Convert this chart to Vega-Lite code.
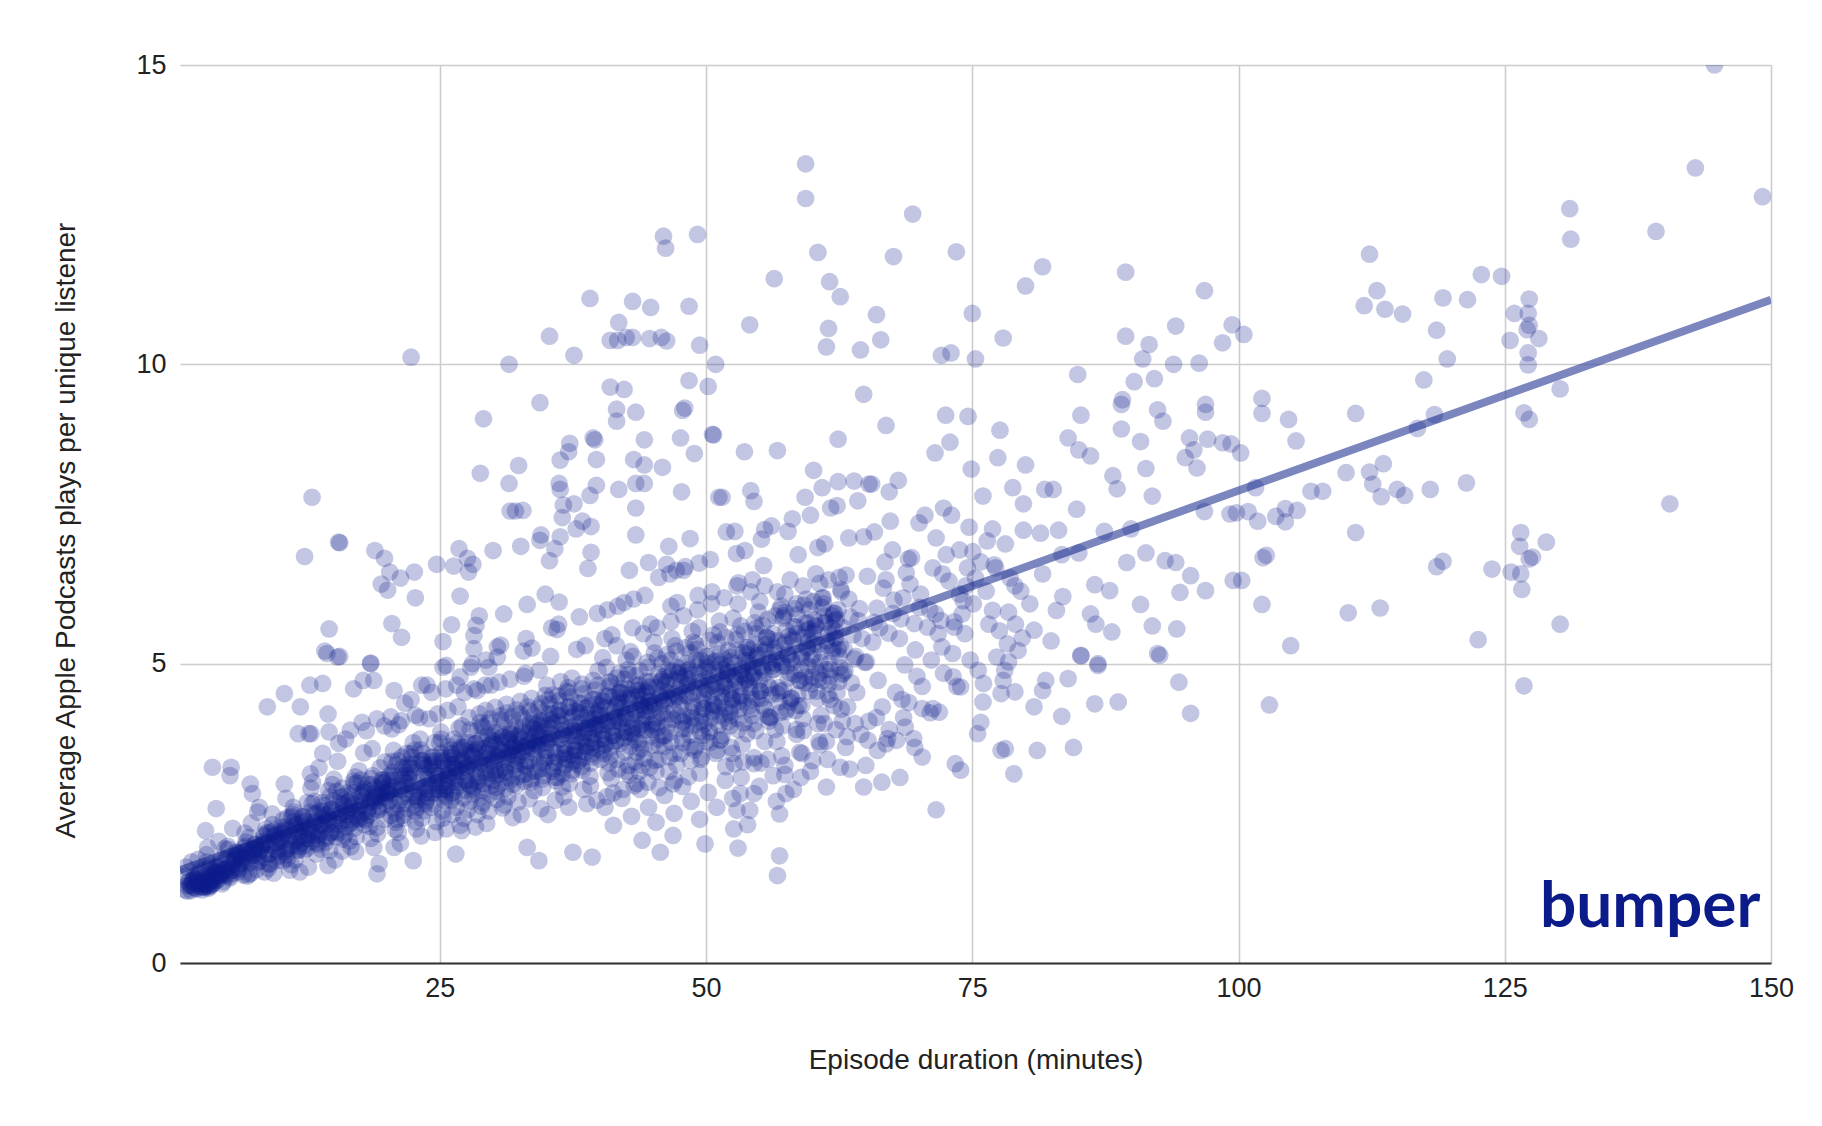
{
  "$schema": "https://vega.github.io/schema/vega-lite/v6.json",
  "width": 1591,
  "height": 898,
  "autosize": "none",
  "padding": {"left": 180, "top": 65, "right": 51, "bottom": 163},
  "background": "white",
  "config": {"font": "Liberation Sans", "view": {"stroke": null}},
  "encoding": {
    "x": {
      "field": "dur", "type": "quantitative",
      "scale": {"domain": [0.6, 150], "nice": false, "zero": false},
      "axis": {"values": [25, 50, 75, 100, 125, 150], "title": "Episode duration (minutes)", "grid": true, "gridColor": "#cccccc", "gridWidth": 1.6, "domain": true, "domainColor": "#333333", "domainWidth": 2, "ticks": false, "labelPadding": 12, "labelFontSize": 27, "labelColor": "#222222", "labelFlush": false, "labelOverlap": false, "titleFontSize": 28, "titleFontWeight": "normal", "titleColor": "#222222", "titleY": 105, "titleBaseline": "alphabetic"}
    },
    "y": {
      "field": "ppl", "type": "quantitative",
      "scale": {"domain": [0, 15], "nice": false},
      "axis": {"values": [0, 5, 10, 15], "title": "Average Apple Podcasts plays per unique listener", "grid": true, "gridColor": "#cccccc", "gridWidth": 1.6, "domain": false, "ticks": false, "labelPadding": 14, "labelFontSize": 27, "labelColor": "#222222", "titleFontSize": 28, "titleFontWeight": "normal", "titleColor": "#222222", "titleAngle": -90, "titleX": -114, "titleY": 465, "titleAlign": "center", "titleBaseline": "middle"}
    }
  },
  "layer": [
    {
      "data": {"values": [{"dur": 0.6, "ppl": 1.55}, {"dur": 150, "ppl": 11.08}]},
      "mark": {"type": "line", "color": "#4352a2", "opacity": 0.7, "strokeWidth": 8, "clip": true}
    },
    {
      "data": {"values": [
        {"dur":1.05,"ppl":1.45},{"dur":1.55,"ppl":1.3},{"dur":1.3,"ppl":1.2},{"dur":1.8,"ppl":1.39},{"dur":1.15,"ppl":1.6},{"dur":1.65,"ppl":1.21},{"dur":1.4,"ppl":1.35},{"dur":1.9,"ppl":1.42},{"dur":1.25,"ppl":1.29},{"dur":1.7,"ppl":1.69},{"dur":1.1,"ppl":1.22},{"dur":1.5,"ppl":1.38},
        {"dur":2.05,"ppl":1.46},{"dur":2.55,"ppl":1.33},{"dur":2.3,"ppl":1.73},{"dur":2.8,"ppl":1.26},{"dur":2.15,"ppl":1.42},{"dur":2.65,"ppl":1.52},{"dur":2.4,"ppl":1.37},{"dur":2.9,"ppl":1.31},{"dur":2.25,"ppl":1.45},{"dur":2.7,"ppl":1.22},{"dur":2.1,"ppl":1.4},{"dur":2.5,"ppl":1.55},{"dur":2.85,"ppl":1.28},{"dur":2.35,"ppl":1.49},{"dur":2.6,"ppl":1.34},{"dur":2.2,"ppl":1.24},
        {"dur":3.05,"ppl":1.37},{"dur":3.55,"ppl":1.55},{"dur":3.3,"ppl":1.25},{"dur":3.8,"ppl":1.49},{"dur":3.15,"ppl":1.69},{"dur":3.65,"ppl":1.33},{"dur":3.4,"ppl":1.61},{"dur":3.9,"ppl":1.41},{"dur":3.25,"ppl":1.27},{"dur":3.7,"ppl":1.53},{"dur":3.1,"ppl":1.81},{"dur":3.5,"ppl":1.29},{"dur":3.85,"ppl":1.47},{"dur":3.35,"ppl":1.57},{"dur":3.6,"ppl":1.39},{"dur":3.2,"ppl":1.93},
        {"dur":4.05,"ppl":1.51},{"dur":4.55,"ppl":1.32},{"dur":4.3,"ppl":1.63},{"dur":4.8,"ppl":1.91},{"dur":4.15,"ppl":1.39},{"dur":4.65,"ppl":1.57},{"dur":4.4,"ppl":1.67},{"dur":4.9,"ppl":1.49},{"dur":4.25,"ppl":2.03},{"dur":4.7,"ppl":1.36},{"dur":4.1,"ppl":1.61},{"dur":4.5,"ppl":1.75},{"dur":4.85,"ppl":1.55},{"dur":4.35,"ppl":1.47},
        {"dur":5.05,"ppl":1.58},{"dur":5.55,"ppl":2.25},{"dur":5.3,"ppl":1.42},{"dur":5.8,"ppl":1.73},{"dur":5.15,"ppl":1.9},{"dur":5.65,"ppl":1.65},{"dur":5.4,"ppl":1.55},{"dur":5.9,"ppl":1.78},{"dur":5.25,"ppl":1.45},{"dur":5.7,"ppl":1.7},{"dur":5.1,"ppl":1.95},{"dur":5.5,"ppl":1.5},{"dur":5.85,"ppl":1.85},
        {"dur":6.05,"ppl":1.85},{"dur":6.55,"ppl":1.47},{"dur":6.3,"ppl":1.77},{"dur":6.8,"ppl":2.02},{"dur":6.15,"ppl":1.57},{"dur":6.65,"ppl":1.92},{"dur":6.4,"ppl":1.67},{"dur":6.9,"ppl":1.45},{"dur":6.25,"ppl":1.82},{"dur":6.7,"ppl":2.17},{"dur":6.1,"ppl":1.52},{"dur":6.5,"ppl":1.75},{"dur":6.85,"ppl":1.87},
        {"dur":7.05,"ppl":1.48},{"dur":7.55,"ppl":1.92},{"dur":7.3,"ppl":2.34},{"dur":7.8,"ppl":1.56},{"dur":7.15,"ppl":1.83},{"dur":7.65,"ppl":1.98},{"dur":7.4,"ppl":1.71},{"dur":7.9,"ppl":2.52},{"dur":7.25,"ppl":1.5},{"dur":7.7,"ppl":1.89},{"dur":7.1,"ppl":2.1},{"dur":7.5,"ppl":1.8},{"dur":7.85,"ppl":1.68},
        {"dur":8.05,"ppl":2.6},{"dur":8.55,"ppl":1.52},{"dur":8.3,"ppl":1.97},{"dur":8.8,"ppl":2.18},{"dur":8.15,"ppl":1.88},{"dur":8.65,"ppl":1.76},{"dur":8.4,"ppl":2.03},{"dur":8.9,"ppl":1.58},{"dur":8.25,"ppl":1.94},{"dur":8.7,"ppl":2.24},{"dur":8.1,"ppl":1.7},{"dur":8.5,"ppl":2.12},{"dur":8.85,"ppl":1.82},
        {"dur":9.05,"ppl":1.65},{"dur":9.55,"ppl":2.01},{"dur":9.3,"ppl":2.31},{"dur":9.8,"ppl":1.77},{"dur":9.15,"ppl":2.19},{"dur":9.65,"ppl":1.89},{"dur":9.4,"ppl":1.5},{"dur":9.9,"ppl":2.07},{"dur":9.25,"ppl":2.49},{"dur":9.7,"ppl":1.71},{"dur":9.1,"ppl":1.98},{"dur":9.5,"ppl":2.13},{"dur":9.85,"ppl":1.86},
        {"dur":10.05,"ppl":2.19},{"dur":10.55,"ppl":2.75},{"dur":10.3,"ppl":1.71},{"dur":10.8,"ppl":2.07},{"dur":10.15,"ppl":2.27},{"dur":10.65,"ppl":1.91},{"dur":10.4,"ppl":2.99},{"dur":10.9,"ppl":1.55},{"dur":10.25,"ppl":2.15},{"dur":10.7,"ppl":2.43},{"dur":10.1,"ppl":2.03},{"dur":10.5,"ppl":1.87},{"dur":10.85,"ppl":2.23},
        {"dur":11.05,"ppl":1.64},{"dur":11.55,"ppl":2.24},{"dur":11.3,"ppl":2.52},{"dur":11.8,"ppl":2.12},{"dur":11.15,"ppl":1.96},{"dur":11.65,"ppl":2.32},{"dur":11.4,"ppl":1.72},{"dur":11.9,"ppl":2.2},{"dur":11.25,"ppl":2.6},{"dur":11.7,"ppl":1.88},{"dur":11.1,"ppl":2.44},{"dur":11.5,"ppl":2.04},{"dur":11.85,"ppl":1.52},
        {"dur":12.05,"ppl":2.28},{"dur":12.55,"ppl":2.68},{"dur":12.3,"ppl":1.96},{"dur":12.8,"ppl":2.52},{"dur":12.15,"ppl":2.12},{"dur":12.65,"ppl":1.6},{"dur":12.4,"ppl":2.36},{"dur":12.9,"ppl":2.92},{"dur":12.25,"ppl":1.88},{"dur":12.7,"ppl":2.24},{"dur":12.1,"ppl":2.44},{"dur":12.5,"ppl":2.08},{"dur":12.85,"ppl":3.16},
        {"dur":13.05,"ppl":3.02},{"dur":13.55,"ppl":1.98},{"dur":13.3,"ppl":2.34},{"dur":13.8,"ppl":2.54},{"dur":13.15,"ppl":2.18},{"dur":13.65,"ppl":3.26},{"dur":13.4,"ppl":1.82},{"dur":13.9,"ppl":2.42},{"dur":13.25,"ppl":2.7},{"dur":13.7,"ppl":2.3},{"dur":13.1,"ppl":2.14},{"dur":13.5,"ppl":2.5},{"dur":13.85,"ppl":1.9},
        {"dur":14.05,"ppl":2.53},{"dur":14.55,"ppl":2.88},{"dur":14.3,"ppl":2.38},{"dur":14.8,"ppl":2.18},{"dur":14.15,"ppl":2.63},{"dur":14.65,"ppl":1.88},{"dur":14.4,"ppl":2.48},{"dur":14.9,"ppl":2.98},{"dur":14.25,"ppl":2.08},{"dur":14.7,"ppl":2.78},{"dur":14.1,"ppl":2.28},{"dur":14.5,"ppl":1.63},{"dur":14.85,"ppl":2.58},
        {"dur":15.05,"ppl":3.07},{"dur":15.55,"ppl":2.17},{"dur":15.3,"ppl":2.87},{"dur":15.8,"ppl":2.37},{"dur":15.15,"ppl":1.72},{"dur":15.65,"ppl":2.67},{"dur":15.4,"ppl":3.37},{"dur":15.9,"ppl":2.07},{"dur":15.25,"ppl":2.52},{"dur":15.7,"ppl":2.77},{"dur":15.1,"ppl":2.32},{"dur":15.5,"ppl":3.67},{"dur":15.85,"ppl":1.87},
        {"dur":16.05,"ppl":2.14},{"dur":16.55,"ppl":2.59},{"dur":16.3,"ppl":2.84},{"dur":16.8,"ppl":2.39},{"dur":16.15,"ppl":3.74},{"dur":16.65,"ppl":1.94},{"dur":16.4,"ppl":2.69},{"dur":16.9,"ppl":3.04},{"dur":16.25,"ppl":2.54},{"dur":16.7,"ppl":2.34},{"dur":16.1,"ppl":2.79},{"dur":16.5,"ppl":2.04},{"dur":16.85,"ppl":2.64},
        {"dur":17.05,"ppl":3.11},{"dur":17.55,"ppl":2.61},{"dur":17.3,"ppl":2.41},{"dur":17.8,"ppl":2.86},{"dur":17.15,"ppl":2.11},{"dur":17.65,"ppl":2.71},{"dur":17.4,"ppl":3.21},{"dur":17.9,"ppl":2.31},{"dur":17.25,"ppl":3.01},{"dur":17.7,"ppl":2.51},{"dur":17.1,"ppl":1.86},{"dur":17.5,"ppl":2.81},{"dur":17.85,"ppl":3.51},
        {"dur":18.05,"ppl":2.38},{"dur":18.55,"ppl":3.08},{"dur":18.3,"ppl":2.58},{"dur":18.8,"ppl":1.93},{"dur":18.15,"ppl":2.88},{"dur":18.65,"ppl":3.58},{"dur":18.4,"ppl":2.28},{"dur":18.9,"ppl":2.73},{"dur":18.25,"ppl":2.98},{"dur":18.7,"ppl":2.53},{"dur":18.1,"ppl":3.88},{"dur":18.5,"ppl":2.08},{"dur":18.85,"ppl":2.83},
        {"dur":19.05,"ppl":2.81},{"dur":19.55,"ppl":3.06},{"dur":19.3,"ppl":2.61},{"dur":19.8,"ppl":3.96},{"dur":19.15,"ppl":2.16},{"dur":19.65,"ppl":2.91},{"dur":19.4,"ppl":3.26},{"dur":19.9,"ppl":2.76},{"dur":19.25,"ppl":2.56},{"dur":19.7,"ppl":3.01},{"dur":19.1,"ppl":2.26},{"dur":19.5,"ppl":2.86},{"dur":19.85,"ppl":3.36},
        {"dur":20.05,"ppl":2.83},{"dur":20.55,"ppl":2.59},{"dur":20.3,"ppl":3.13},{"dur":20.8,"ppl":2.23},{"dur":20.15,"ppl":2.95},{"dur":20.65,"ppl":3.55},{"dur":20.4,"ppl":2.47},{"dur":20.9,"ppl":3.31},{"dur":20.25,"ppl":2.71},{"dur":20.7,"ppl":1.93},{"dur":20.1,"ppl":3.07},{"dur":20.5,"ppl":3.91},{"dur":20.85,"ppl":2.35},{"dur":20.35,"ppl":2.89},{"dur":20.6,"ppl":3.19},
        {"dur":21.05,"ppl":3.38},{"dur":21.55,"ppl":2.78},{"dur":21.3,"ppl":2.0},{"dur":21.8,"ppl":3.14},{"dur":21.15,"ppl":3.98},{"dur":21.65,"ppl":2.42},{"dur":21.4,"ppl":2.96},{"dur":21.9,"ppl":3.26},{"dur":21.25,"ppl":2.72},{"dur":21.7,"ppl":4.34},{"dur":21.1,"ppl":2.18},{"dur":21.5,"ppl":3.08},{"dur":21.85,"ppl":3.5},{"dur":21.35,"ppl":2.9},{"dur":21.6,"ppl":2.66},
        {"dur":22.05,"ppl":3.32},{"dur":22.55,"ppl":2.78},{"dur":22.3,"ppl":4.4},{"dur":22.8,"ppl":2.24},{"dur":22.15,"ppl":3.14},{"dur":22.65,"ppl":3.56},{"dur":22.4,"ppl":2.96},{"dur":22.9,"ppl":2.72},{"dur":22.25,"ppl":3.26},{"dur":22.7,"ppl":2.36},{"dur":22.1,"ppl":3.08},{"dur":22.5,"ppl":3.68},{"dur":22.85,"ppl":2.6},{"dur":22.35,"ppl":3.44},{"dur":22.6,"ppl":2.84},
        {"dur":23.05,"ppl":2.78},{"dur":23.55,"ppl":3.32},{"dur":23.3,"ppl":2.42},{"dur":23.8,"ppl":3.14},{"dur":23.15,"ppl":3.74},{"dur":23.65,"ppl":2.66},{"dur":23.4,"ppl":3.5},{"dur":23.9,"ppl":2.9},{"dur":23.25,"ppl":2.12},{"dur":23.7,"ppl":3.26},{"dur":23.1,"ppl":4.1},{"dur":23.5,"ppl":2.54},{"dur":23.85,"ppl":3.08},{"dur":23.35,"ppl":3.38},{"dur":23.6,"ppl":2.84},
        {"dur":24.05,"ppl":2.96},{"dur":24.55,"ppl":2.18},{"dur":24.3,"ppl":3.32},{"dur":24.8,"ppl":4.16},{"dur":24.15,"ppl":2.6},{"dur":24.65,"ppl":3.14},{"dur":24.4,"ppl":3.44},{"dur":24.9,"ppl":2.9},{"dur":24.25,"ppl":4.52},{"dur":24.7,"ppl":2.36},{"dur":24.1,"ppl":3.26},{"dur":24.5,"ppl":3.68},{"dur":24.85,"ppl":3.08},{"dur":24.35,"ppl":2.84},{"dur":24.6,"ppl":3.38},
        {"dur":25.05,"ppl":2.96},{"dur":25.55,"ppl":4.58},{"dur":25.3,"ppl":2.42},{"dur":25.8,"ppl":3.32},{"dur":25.15,"ppl":3.74},{"dur":25.65,"ppl":3.14},{"dur":25.4,"ppl":2.9},{"dur":25.9,"ppl":3.44},{"dur":25.25,"ppl":2.54},{"dur":25.7,"ppl":3.26},{"dur":25.1,"ppl":3.86},{"dur":25.5,"ppl":2.78},{"dur":25.85,"ppl":3.62},{"dur":25.35,"ppl":3.02},{"dur":25.6,"ppl":2.24},{"dur":25.2,"ppl":3.38},{"dur":25.75,"ppl":4.22},
        {"dur":26.05,"ppl":3.5},{"dur":26.55,"ppl":2.6},{"dur":26.3,"ppl":3.32},{"dur":26.8,"ppl":3.92},{"dur":26.15,"ppl":2.84},{"dur":26.65,"ppl":3.68},{"dur":26.4,"ppl":3.08},{"dur":26.9,"ppl":2.3},{"dur":26.25,"ppl":3.44},{"dur":26.7,"ppl":4.28},{"dur":26.1,"ppl":2.72},{"dur":26.5,"ppl":3.26},{"dur":26.85,"ppl":3.56},{"dur":26.35,"ppl":3.02},{"dur":26.6,"ppl":4.64},{"dur":26.2,"ppl":2.48},{"dur":26.75,"ppl":3.38},
        {"dur":27.05,"ppl":2.21},{"dur":27.55,"ppl":3.54},{"dur":27.3,"ppl":4.52},{"dur":27.8,"ppl":2.7},{"dur":27.15,"ppl":3.33},{"dur":27.65,"ppl":3.68},{"dur":27.4,"ppl":3.05},{"dur":27.9,"ppl":4.94},{"dur":27.25,"ppl":2.42},{"dur":27.7,"ppl":3.47},{"dur":27.1,"ppl":3.96},{"dur":27.5,"ppl":3.26},{"dur":27.85,"ppl":2.98},{"dur":27.35,"ppl":3.61},{"dur":27.6,"ppl":2.56},{"dur":27.2,"ppl":3.4},{"dur":27.75,"ppl":4.1},
        {"dur":28.05,"ppl":5.0},{"dur":28.55,"ppl":2.48},{"dur":28.3,"ppl":3.53},{"dur":28.8,"ppl":4.02},{"dur":28.15,"ppl":3.32},{"dur":28.65,"ppl":3.04},{"dur":28.4,"ppl":3.67},{"dur":28.9,"ppl":2.62},{"dur":28.25,"ppl":3.46},{"dur":28.7,"ppl":4.16},{"dur":28.1,"ppl":2.9},{"dur":28.5,"ppl":3.88},{"dur":28.85,"ppl":3.18},{"dur":28.35,"ppl":2.27},{"dur":28.6,"ppl":3.6},{"dur":28.2,"ppl":4.58},{"dur":28.75,"ppl":2.76},
        {"dur":29.05,"ppl":2.68},{"dur":29.55,"ppl":3.52},{"dur":29.3,"ppl":4.22},{"dur":29.8,"ppl":2.96},{"dur":29.15,"ppl":3.94},{"dur":29.65,"ppl":3.24},{"dur":29.4,"ppl":2.33},{"dur":29.9,"ppl":3.66},{"dur":29.25,"ppl":4.64},{"dur":29.7,"ppl":2.82},{"dur":29.1,"ppl":3.45},{"dur":29.5,"ppl":3.8},{"dur":29.85,"ppl":3.17},{"dur":29.35,"ppl":5.06},{"dur":29.6,"ppl":2.54},{"dur":29.2,"ppl":3.59},{"dur":29.75,"ppl":4.08},
        {"dur":30.05,"ppl":3.71},{"dur":30.55,"ppl":4.69},{"dur":30.3,"ppl":2.87},{"dur":30.8,"ppl":3.5},{"dur":30.15,"ppl":3.85},{"dur":30.65,"ppl":3.22},{"dur":30.4,"ppl":5.11},{"dur":30.9,"ppl":2.59},{"dur":30.25,"ppl":3.64},{"dur":30.7,"ppl":4.13},{"dur":30.1,"ppl":3.43},{"dur":30.5,"ppl":3.15},{"dur":30.85,"ppl":3.78},{"dur":30.35,"ppl":2.73},{"dur":30.6,"ppl":3.57},{"dur":30.2,"ppl":4.27},{"dur":30.75,"ppl":3.01},
        {"dur":31.05,"ppl":2.64},{"dur":31.55,"ppl":3.69},{"dur":31.3,"ppl":4.18},{"dur":31.8,"ppl":3.48},{"dur":31.15,"ppl":3.2},{"dur":31.65,"ppl":3.83},{"dur":31.4,"ppl":2.78},{"dur":31.9,"ppl":3.62},{"dur":31.25,"ppl":4.32},{"dur":31.7,"ppl":3.06},{"dur":31.1,"ppl":4.04},{"dur":31.5,"ppl":3.34},{"dur":31.85,"ppl":2.43},{"dur":31.35,"ppl":3.76},{"dur":31.6,"ppl":4.74},{"dur":31.2,"ppl":2.92},{"dur":31.75,"ppl":3.55},
        {"dur":32.05,"ppl":3.67},{"dur":32.55,"ppl":4.37},{"dur":32.3,"ppl":3.11},{"dur":32.8,"ppl":4.09},{"dur":32.15,"ppl":3.39},{"dur":32.65,"ppl":2.48},{"dur":32.4,"ppl":3.81},{"dur":32.9,"ppl":4.79},{"dur":32.25,"ppl":2.97},{"dur":32.7,"ppl":3.6},{"dur":32.1,"ppl":3.95},{"dur":32.5,"ppl":3.32},{"dur":32.85,"ppl":5.21},{"dur":32.35,"ppl":2.69},{"dur":32.6,"ppl":3.74},{"dur":32.2,"ppl":4.23},{"dur":32.75,"ppl":3.53},
        {"dur":33.05,"ppl":4.84},{"dur":33.55,"ppl":3.02},{"dur":33.3,"ppl":3.65},{"dur":33.8,"ppl":4.0},{"dur":33.15,"ppl":3.37},{"dur":33.65,"ppl":5.26},{"dur":33.4,"ppl":2.74},{"dur":33.9,"ppl":3.79},{"dur":33.25,"ppl":4.28},{"dur":33.7,"ppl":3.58},{"dur":33.1,"ppl":3.3},{"dur":33.5,"ppl":3.93},{"dur":33.85,"ppl":2.88},{"dur":33.35,"ppl":3.72},{"dur":33.6,"ppl":4.42},{"dur":33.2,"ppl":3.16},{"dur":33.75,"ppl":4.14},
        {"dur":34.05,"ppl":3.84},{"dur":34.55,"ppl":4.33},{"dur":34.3,"ppl":3.63},{"dur":34.8,"ppl":3.35},{"dur":34.15,"ppl":3.98},{"dur":34.65,"ppl":2.93},{"dur":34.4,"ppl":3.77},{"dur":34.9,"ppl":4.47},{"dur":34.25,"ppl":3.21},{"dur":34.7,"ppl":4.19},{"dur":34.1,"ppl":3.49},{"dur":34.5,"ppl":2.58},{"dur":34.85,"ppl":3.91},{"dur":34.35,"ppl":4.89},{"dur":34.6,"ppl":3.07},{"dur":34.2,"ppl":3.7},{"dur":34.75,"ppl":4.05},
        {"dur":35.05,"ppl":4.64},{"dur":35.55,"ppl":3.2},{"dur":35.3,"ppl":4.32},{"dur":35.8,"ppl":3.52},{"dur":35.15,"ppl":2.48},{"dur":35.65,"ppl":4.0},{"dur":35.4,"ppl":5.12},{"dur":35.9,"ppl":3.04},{"dur":35.25,"ppl":3.76},{"dur":35.7,"ppl":4.16},{"dur":35.1,"ppl":3.44},{"dur":35.5,"ppl":5.6},{"dur":35.85,"ppl":2.72},{"dur":35.35,"ppl":3.92},{"dur":35.6,"ppl":4.48},{"dur":35.2,"ppl":3.68},{"dur":35.75,"ppl":3.36},
        {"dur":36.05,"ppl":3.1},{"dur":36.55,"ppl":3.82},{"dur":36.3,"ppl":4.22},{"dur":36.8,"ppl":3.5},{"dur":36.15,"ppl":5.66},{"dur":36.65,"ppl":2.78},{"dur":36.4,"ppl":3.98},{"dur":36.9,"ppl":4.54},{"dur":36.25,"ppl":3.74},{"dur":36.7,"ppl":3.42},{"dur":36.1,"ppl":4.14},{"dur":36.5,"ppl":2.94},{"dur":36.85,"ppl":3.9},{"dur":36.35,"ppl":4.7},{"dur":36.6,"ppl":3.26},{"dur":36.2,"ppl":4.38},{"dur":36.75,"ppl":3.58},
        {"dur":37.05,"ppl":4.6},{"dur":37.55,"ppl":3.8},{"dur":37.3,"ppl":3.48},{"dur":37.8,"ppl":4.2},{"dur":37.15,"ppl":3.0},{"dur":37.65,"ppl":3.96},{"dur":37.4,"ppl":4.76},{"dur":37.9,"ppl":3.32},{"dur":37.25,"ppl":4.44},{"dur":37.7,"ppl":3.64},{"dur":37.1,"ppl":2.6},{"dur":37.5,"ppl":4.12},{"dur":37.85,"ppl":5.24},{"dur":37.35,"ppl":3.16},{"dur":37.6,"ppl":3.88},{"dur":37.2,"ppl":4.28},{"dur":37.75,"ppl":3.56},
        {"dur":38.05,"ppl":3.38},{"dur":38.55,"ppl":4.5},{"dur":38.3,"ppl":3.7},{"dur":38.8,"ppl":2.66},{"dur":38.15,"ppl":4.18},{"dur":38.65,"ppl":5.3},{"dur":38.4,"ppl":3.22},{"dur":38.9,"ppl":3.94},{"dur":38.25,"ppl":4.34},{"dur":38.7,"ppl":3.62},{"dur":38.1,"ppl":5.78},{"dur":38.5,"ppl":2.9},{"dur":38.85,"ppl":4.1},{"dur":38.35,"ppl":4.66},{"dur":38.6,"ppl":3.86},{"dur":38.2,"ppl":3.54},{"dur":38.75,"ppl":4.26},
        {"dur":39.05,"ppl":4.0},{"dur":39.55,"ppl":4.4},{"dur":39.3,"ppl":3.68},{"dur":39.8,"ppl":5.84},{"dur":39.15,"ppl":2.96},{"dur":39.65,"ppl":4.16},{"dur":39.4,"ppl":4.72},{"dur":39.9,"ppl":3.92},{"dur":39.25,"ppl":3.6},{"dur":39.7,"ppl":4.32},{"dur":39.1,"ppl":3.12},{"dur":39.5,"ppl":4.08},{"dur":39.85,"ppl":4.88},{"dur":39.35,"ppl":3.44},{"dur":39.6,"ppl":4.56},{"dur":39.2,"ppl":3.76},{"dur":39.75,"ppl":2.72},
        {"dur":40.05,"ppl":3.98},{"dur":40.55,"ppl":3.66},{"dur":40.3,"ppl":4.38},{"dur":40.8,"ppl":3.18},{"dur":40.15,"ppl":4.14},{"dur":40.65,"ppl":4.94},{"dur":40.4,"ppl":3.5},{"dur":40.9,"ppl":4.62},{"dur":40.25,"ppl":3.82},{"dur":40.7,"ppl":2.78},{"dur":40.1,"ppl":4.3},{"dur":40.5,"ppl":5.42},{"dur":40.85,"ppl":3.34},{"dur":40.35,"ppl":4.06},{"dur":40.6,"ppl":4.46},{"dur":40.2,"ppl":3.74},{"dur":40.75,"ppl":5.9},
        {"dur":41.05,"ppl":4.68},{"dur":41.55,"ppl":3.88},{"dur":41.3,"ppl":2.84},{"dur":41.8,"ppl":4.36},{"dur":41.15,"ppl":5.48},{"dur":41.65,"ppl":3.4},{"dur":41.4,"ppl":4.12},{"dur":41.9,"ppl":4.52},{"dur":41.25,"ppl":3.8},{"dur":41.7,"ppl":5.96},{"dur":41.1,"ppl":3.08},{"dur":41.5,"ppl":4.28},{"dur":41.85,"ppl":4.84},{"dur":41.35,"ppl":4.04},{"dur":41.6,"ppl":3.72},{"dur":41.2,"ppl":4.44},{"dur":41.75,"ppl":3.24},
        {"dur":42.05,"ppl":4.58},{"dur":42.55,"ppl":3.86},{"dur":42.3,"ppl":6.02},{"dur":42.8,"ppl":3.14},{"dur":42.15,"ppl":4.34},{"dur":42.65,"ppl":4.9},{"dur":42.4,"ppl":4.1},{"dur":42.9,"ppl":3.78},{"dur":42.25,"ppl":4.5},{"dur":42.7,"ppl":3.3},{"dur":42.1,"ppl":4.26},{"dur":42.5,"ppl":5.06},{"dur":42.85,"ppl":3.62},{"dur":42.35,"ppl":4.74},{"dur":42.6,"ppl":3.94},{"dur":42.2,"ppl":2.9},{"dur":42.75,"ppl":4.42},
        {"dur":43.05,"ppl":3.84},{"dur":43.55,"ppl":4.56},{"dur":43.3,"ppl":3.36},{"dur":43.8,"ppl":4.32},{"dur":43.15,"ppl":5.12},{"dur":43.65,"ppl":3.68},{"dur":43.4,"ppl":4.8},{"dur":43.9,"ppl":4.0},{"dur":43.25,"ppl":2.96},{"dur":43.7,"ppl":4.48},{"dur":43.1,"ppl":5.6},{"dur":43.5,"ppl":3.52},{"dur":43.85,"ppl":4.24},{"dur":43.35,"ppl":4.64},{"dur":43.6,"ppl":3.92},{"dur":43.2,"ppl":6.08},{"dur":43.75,"ppl":3.2},
        {"dur":44.05,"ppl":4.06},{"dur":44.55,"ppl":3.02},{"dur":44.3,"ppl":4.54},{"dur":44.8,"ppl":5.66},{"dur":44.15,"ppl":3.58},{"dur":44.65,"ppl":4.3},{"dur":44.4,"ppl":4.7},{"dur":44.9,"ppl":3.98},{"dur":44.25,"ppl":6.14},{"dur":44.7,"ppl":3.26},{"dur":44.1,"ppl":4.46},{"dur":44.5,"ppl":5.02},{"dur":44.85,"ppl":4.22},{"dur":44.35,"ppl":3.9},{"dur":44.6,"ppl":4.62},{"dur":44.2,"ppl":3.42},{"dur":44.75,"ppl":4.38},
        {"dur":45.05,"ppl":4.01},{"dur":45.55,"ppl":6.44},{"dur":45.3,"ppl":3.2},{"dur":45.8,"ppl":4.55},{"dur":45.15,"ppl":5.18},{"dur":45.65,"ppl":4.28},{"dur":45.4,"ppl":3.92},{"dur":45.9,"ppl":4.73},{"dur":45.25,"ppl":3.38},{"dur":45.7,"ppl":4.46},{"dur":45.1,"ppl":5.36},{"dur":45.5,"ppl":3.74},{"dur":45.85,"ppl":5.0},{"dur":45.35,"ppl":4.1},{"dur":45.6,"ppl":2.93},
        {"dur":46.05,"ppl":4.79},{"dur":46.55,"ppl":3.44},{"dur":46.3,"ppl":4.52},{"dur":46.8,"ppl":5.42},{"dur":46.15,"ppl":3.8},{"dur":46.65,"ppl":5.06},{"dur":46.4,"ppl":4.16},{"dur":46.9,"ppl":2.99},{"dur":46.25,"ppl":4.7},{"dur":46.7,"ppl":5.96},{"dur":46.1,"ppl":3.62},{"dur":46.5,"ppl":4.43},{"dur":46.85,"ppl":4.88},{"dur":46.35,"ppl":4.07},{"dur":46.6,"ppl":6.5},
        {"dur":47.05,"ppl":3.05},{"dur":47.55,"ppl":4.76},{"dur":47.3,"ppl":6.02},{"dur":47.8,"ppl":3.68},{"dur":47.15,"ppl":4.49},{"dur":47.65,"ppl":4.94},{"dur":47.4,"ppl":4.13},{"dur":47.9,"ppl":6.56},{"dur":47.25,"ppl":3.32},{"dur":47.7,"ppl":4.67},{"dur":47.1,"ppl":5.3},{"dur":47.5,"ppl":4.4},{"dur":47.85,"ppl":4.04},{"dur":47.35,"ppl":4.85},{"dur":47.6,"ppl":3.5},
        {"dur":48.05,"ppl":6.62},{"dur":48.55,"ppl":3.38},{"dur":48.3,"ppl":4.73},{"dur":48.8,"ppl":5.36},{"dur":48.15,"ppl":4.46},{"dur":48.65,"ppl":4.1},{"dur":48.4,"ppl":4.91},{"dur":48.9,"ppl":3.56},{"dur":48.25,"ppl":4.64},{"dur":48.7,"ppl":5.54},{"dur":48.1,"ppl":3.92},{"dur":48.5,"ppl":5.18},{"dur":48.85,"ppl":4.28},{"dur":48.35,"ppl":3.11},{"dur":48.6,"ppl":4.82},
        {"dur":49.05,"ppl":3.62},{"dur":49.55,"ppl":4.7},{"dur":49.3,"ppl":5.6},{"dur":49.8,"ppl":3.98},{"dur":49.15,"ppl":5.24},{"dur":49.65,"ppl":4.34},{"dur":49.4,"ppl":3.17},{"dur":49.9,"ppl":4.88},{"dur":49.25,"ppl":6.14},{"dur":49.7,"ppl":3.8},{"dur":49.1,"ppl":4.61},{"dur":49.5,"ppl":5.06},{"dur":49.85,"ppl":4.25},{"dur":49.35,"ppl":6.68},{"dur":49.6,"ppl":3.44},
        {"dur":50.05,"ppl":4.94},{"dur":50.55,"ppl":6.2},{"dur":50.3,"ppl":3.86},{"dur":50.8,"ppl":4.67},{"dur":50.15,"ppl":5.12},{"dur":50.65,"ppl":4.31},{"dur":50.4,"ppl":6.74},{"dur":50.9,"ppl":3.5},{"dur":50.25,"ppl":4.85},{"dur":50.7,"ppl":5.48},{"dur":50.1,"ppl":4.58},{"dur":50.5,"ppl":4.22},{"dur":50.85,"ppl":5.03},{"dur":50.35,"ppl":3.68},
        {"dur":51.05,"ppl":3.55},{"dur":51.55,"ppl":4.9},{"dur":51.3,"ppl":5.53},{"dur":51.8,"ppl":4.63},{"dur":51.15,"ppl":4.27},{"dur":51.65,"ppl":5.08},{"dur":51.4,"ppl":3.73},{"dur":51.9,"ppl":4.81},{"dur":51.25,"ppl":5.71},{"dur":51.7,"ppl":4.09},{"dur":51.1,"ppl":5.35},{"dur":51.5,"ppl":4.45},{"dur":51.85,"ppl":3.28},{"dur":51.35,"ppl":4.99},
        {"dur":52.05,"ppl":4.86},{"dur":52.55,"ppl":5.76},{"dur":52.3,"ppl":4.14},{"dur":52.8,"ppl":5.4},{"dur":52.15,"ppl":4.5},{"dur":52.65,"ppl":3.33},{"dur":52.4,"ppl":5.04},{"dur":52.9,"ppl":6.3},{"dur":52.25,"ppl":3.96},{"dur":52.7,"ppl":4.77},{"dur":52.1,"ppl":5.22},{"dur":52.5,"ppl":4.41},{"dur":52.85,"ppl":6.84},{"dur":52.35,"ppl":3.6},
        {"dur":53.05,"ppl":6.35},{"dur":53.55,"ppl":4.01},{"dur":53.3,"ppl":4.82},{"dur":53.8,"ppl":5.27},{"dur":53.15,"ppl":4.46},{"dur":53.65,"ppl":6.89},{"dur":53.4,"ppl":3.65},{"dur":53.9,"ppl":5.0},{"dur":53.25,"ppl":5.63},{"dur":53.7,"ppl":4.73},{"dur":53.1,"ppl":4.37},{"dur":53.5,"ppl":5.18},{"dur":53.85,"ppl":3.83},{"dur":53.35,"ppl":4.91},
        {"dur":54.05,"ppl":5.05},{"dur":54.55,"ppl":5.68},{"dur":54.3,"ppl":4.78},{"dur":54.8,"ppl":4.42},{"dur":54.15,"ppl":5.23},{"dur":54.65,"ppl":3.88},{"dur":54.4,"ppl":4.96},{"dur":54.9,"ppl":5.86},{"dur":54.25,"ppl":4.24},{"dur":54.7,"ppl":5.5},{"dur":54.1,"ppl":4.6},{"dur":54.5,"ppl":3.43},{"dur":54.85,"ppl":5.14},{"dur":54.35,"ppl":6.4},
        {"dur":55.05,"ppl":6.04},{"dur":55.55,"ppl":4.24},{"dur":55.3,"ppl":5.64},{"dur":55.8,"ppl":4.64},{"dur":55.15,"ppl":3.34},{"dur":55.65,"ppl":5.24},{"dur":55.4,"ppl":6.64},{"dur":55.9,"ppl":4.04},{"dur":55.25,"ppl":4.94},{"dur":55.7,"ppl":5.44},{"dur":55.1,"ppl":4.54},{"dur":55.5,"ppl":7.24},
        {"dur":56.05,"ppl":4.1},{"dur":56.55,"ppl":5.0},{"dur":56.3,"ppl":5.5},{"dur":56.8,"ppl":4.6},{"dur":56.15,"ppl":7.3},{"dur":56.65,"ppl":3.7},{"dur":56.4,"ppl":5.2},{"dur":56.9,"ppl":5.9},{"dur":56.25,"ppl":4.9},{"dur":56.7,"ppl":4.5},{"dur":56.1,"ppl":5.4},{"dur":56.5,"ppl":3.9},
        {"dur":57.05,"ppl":5.96},{"dur":57.55,"ppl":4.96},{"dur":57.3,"ppl":4.56},{"dur":57.8,"ppl":5.46},{"dur":57.15,"ppl":3.96},{"dur":57.65,"ppl":5.16},{"dur":57.4,"ppl":6.16},{"dur":57.9,"ppl":4.36},{"dur":57.25,"ppl":5.76},{"dur":57.7,"ppl":4.76},{"dur":57.1,"ppl":3.46},{"dur":57.5,"ppl":5.36},
        {"dur":58.05,"ppl":4.42},{"dur":58.55,"ppl":5.82},{"dur":58.3,"ppl":4.82},{"dur":58.8,"ppl":3.52},{"dur":58.15,"ppl":5.42},{"dur":58.65,"ppl":6.82},{"dur":58.4,"ppl":4.22},{"dur":58.9,"ppl":5.12},{"dur":58.25,"ppl":5.62},{"dur":58.7,"ppl":4.72},{"dur":58.1,"ppl":7.42},{"dur":58.5,"ppl":3.82},
        {"dur":59.05,"ppl":5.18},{"dur":59.55,"ppl":5.68},{"dur":59.3,"ppl":4.78},{"dur":59.8,"ppl":7.48},{"dur":59.15,"ppl":3.88},{"dur":59.65,"ppl":5.38},{"dur":59.4,"ppl":6.08},{"dur":59.9,"ppl":5.08},{"dur":59.25,"ppl":4.68},{"dur":59.7,"ppl":5.58},{"dur":59.1,"ppl":4.08},{"dur":59.5,"ppl":5.28},
        {"dur":60.05,"ppl":5.14},{"dur":60.55,"ppl":4.74},{"dur":60.3,"ppl":5.64},{"dur":60.8,"ppl":4.14},{"dur":60.15,"ppl":5.34},{"dur":60.65,"ppl":6.34},{"dur":60.4,"ppl":4.54},{"dur":60.9,"ppl":5.94},{"dur":60.25,"ppl":4.94},{"dur":60.7,"ppl":3.64},{"dur":60.1,"ppl":5.54},{"dur":60.5,"ppl":6.94},
        {"dur":61.05,"ppl":6.0},{"dur":61.55,"ppl":5.0},{"dur":61.3,"ppl":3.7},{"dur":61.8,"ppl":5.6},{"dur":61.15,"ppl":7.0},{"dur":61.65,"ppl":4.4},{"dur":61.4,"ppl":5.3},{"dur":61.9,"ppl":5.8},{"dur":61.25,"ppl":4.9},{"dur":61.7,"ppl":7.6},{"dur":61.1,"ppl":4.0},{"dur":61.5,"ppl":5.5},
        {"dur":62.05,"ppl":5.84},{"dur":62.55,"ppl":4.94},{"dur":62.3,"ppl":7.64},{"dur":62.8,"ppl":4.04},{"dur":62.15,"ppl":5.54},{"dur":62.65,"ppl":6.24},{"dur":62.4,"ppl":5.24},{"dur":62.9,"ppl":4.84},{"dur":62.25,"ppl":5.74},{"dur":62.7,"ppl":4.24},{"dur":62.1,"ppl":5.44},{"dur":62.5,"ppl":6.44},
        {"dur":63.05,"ppl":4.88},{"dur":63.55,"ppl":5.78},{"dur":63.3,"ppl":4.28},{"dur":63.8,"ppl":5.48},{"dur":63.15,"ppl":6.48},{"dur":63.65,"ppl":4.68},{"dur":63.4,"ppl":6.08},{"dur":63.9,"ppl":5.08},{"dur":63.25,"ppl":3.78},
        {"dur":64.05,"ppl":5.12},{"dur":64.55,"ppl":3.82},{"dur":64.3,"ppl":5.72},{"dur":64.8,"ppl":7.12},{"dur":64.15,"ppl":4.52},{"dur":64.65,"ppl":5.42},{"dur":64.4,"ppl":5.92},{"dur":64.9,"ppl":5.02},{"dur":64.25,"ppl":7.72},
        {"dur":65.05,"ppl":5.03},{"dur":65.55,"ppl":8.0},{"dur":65.3,"ppl":4.04},{"dur":65.8,"ppl":5.69},{"dur":65.15,"ppl":6.46},{"dur":65.65,"ppl":5.36},
        {"dur":66.05,"ppl":5.93},{"dur":66.55,"ppl":4.28},{"dur":66.3,"ppl":5.6},{"dur":66.8,"ppl":6.7},{"dur":66.15,"ppl":4.72},{"dur":66.65,"ppl":6.26},
        {"dur":67.05,"ppl":3.75},{"dur":67.55,"ppl":5.84},{"dur":67.3,"ppl":7.38},{"dur":67.8,"ppl":4.52},{"dur":67.15,"ppl":5.51},{"dur":67.65,"ppl":6.06},
        {"dur":68.05,"ppl":8.06},{"dur":68.55,"ppl":4.1},{"dur":68.3,"ppl":5.75},{"dur":68.8,"ppl":6.52},{"dur":68.15,"ppl":5.42},{"dur":68.65,"ppl":4.98},
        {"dur":69.05,"ppl":4.35},{"dur":69.55,"ppl":5.67},{"dur":69.3,"ppl":6.77},{"dur":69.8,"ppl":4.79},{"dur":69.15,"ppl":6.33},{"dur":69.65,"ppl":5.23},
        {"dur":70.05,"ppl":5.94},{"dur":70.55,"ppl":7.48},{"dur":70.3,"ppl":4.62},{"dur":70.8,"ppl":5.61},{"dur":70.15,"ppl":6.16},
        {"dur":71.05,"ppl":4.18},{"dur":71.55,"ppl":5.83},{"dur":71.3,"ppl":6.6},{"dur":71.8,"ppl":5.5},{"dur":71.15,"ppl":5.06},
        {"dur":72.05,"ppl":5.72},{"dur":72.55,"ppl":6.82},{"dur":72.3,"ppl":4.84},{"dur":72.8,"ppl":6.38},{"dur":72.15,"ppl":5.28},
        {"dur":73.05,"ppl":7.48},{"dur":73.55,"ppl":4.62},{"dur":73.3,"ppl":5.61},{"dur":73.8,"ppl":6.16},{"dur":73.15,"ppl":5.17},
        {"dur":74.05,"ppl":5.83},{"dur":74.55,"ppl":6.6},{"dur":74.3,"ppl":5.5},{"dur":74.8,"ppl":5.06},{"dur":74.15,"ppl":6.05},
        {"dur":75.05,"ppl":6.87},{"dur":75.55,"ppl":4.89},{"dur":75.3,"ppl":6.43},{"dur":76.05,"ppl":4.67},{"dur":76.55,"ppl":5.66},{"dur":76.3,"ppl":6.21},{"dur":77.05,"ppl":6.65},{"dur":77.55,"ppl":5.55},{"dur":77.3,"ppl":5.11},{"dur":78.05,"ppl":4.89},{"dur":78.55,"ppl":6.43},{"dur":78.3,"ppl":5.33},{"dur":79.05,"ppl":5.66},{"dur":79.55,"ppl":6.21},{"dur":79.3,"ppl":5.22},
        {"dur":1.6,"ppl":1.3},{"dur":1.9,"ppl":1.27},{"dur":2.2,"ppl":1.32},{"dur":2.5,"ppl":1.28},{"dur":2.8,"ppl":1.33},{"dur":3.1,"ppl":1.3},{"dur":3.4,"ppl":1.35},{"dur":3.7,"ppl":1.32},{"dur":4.0,"ppl":1.38},{"dur":1.8,"ppl":1.35},{"dur":2.4,"ppl":1.36},{"dur":3.0,"ppl":1.4},{"dur":2.0,"ppl":1.25},{"dur":2.7,"ppl":1.27},{"dur":3.3,"ppl":1.29},
        {"dur":3.45,"ppl":1.43},{"dur":3.95,"ppl":1.52},{"dur":3.2,"ppl":1.31},{"dur":3.7,"ppl":1.46},{"dur":3.0,"ppl":1.55},{"dur":3.5,"ppl":1.39},
        {"dur":4.45,"ppl":1.49},{"dur":4.95,"ppl":1.73},{"dur":4.2,"ppl":1.44},{"dur":4.7,"ppl":1.55},{"dur":4.0,"ppl":1.59},{"dur":4.5,"ppl":1.47},
        {"dur":5.45,"ppl":1.55},{"dur":5.95,"ppl":1.8},{"dur":5.2,"ppl":1.62},{"dur":5.7,"ppl":1.74},{"dur":5.0,"ppl":1.47},{"dur":5.5,"ppl":1.67},
        {"dur":6.45,"ppl":1.74},{"dur":6.95,"ppl":1.84},{"dur":6.2,"ppl":1.65},{"dur":6.7,"ppl":1.95},{"dur":6.0,"ppl":1.59},{"dur":6.5,"ppl":1.72},
        {"dur":7.45,"ppl":1.8},{"dur":7.95,"ppl":1.85},{"dur":7.2,"ppl":1.67},{"dur":7.7,"ppl":1.98},{"dur":7.0,"ppl":1.76},{"dur":7.5,"ppl":1.91},
        {"dur":8.45,"ppl":1.99},{"dur":8.95,"ppl":1.66},{"dur":8.2,"ppl":1.9},{"dur":8.7,"ppl":2.02},{"dur":8.0,"ppl":1.79},{"dur":8.5,"ppl":2.15},
        {"dur":9.45,"ppl":2.22},{"dur":9.95,"ppl":1.79},{"dur":9.2,"ppl":1.95},{"dur":9.7,"ppl":2.0},{"dur":9.0,"ppl":1.82},{"dur":9.5,"ppl":2.13},
        {"dur":10.45,"ppl":2.27},{"dur":10.95,"ppl":1.98},{"dur":10.2,"ppl":2.17},{"dur":10.7,"ppl":1.74},{"dur":10.0,"ppl":2.05},{"dur":10.5,"ppl":2.22},{"dur":10.85,"ppl":1.91},{"dur":10.3,"ppl":2.39},{"dur":10.6,"ppl":1.81},
        {"dur":11.45,"ppl":2.31},{"dur":11.95,"ppl":2.0},{"dur":11.2,"ppl":2.48},{"dur":11.7,"ppl":1.9},{"dur":11.0,"ppl":2.12},{"dur":11.5,"ppl":2.19},{"dur":11.85,"ppl":1.95},{"dur":11.3,"ppl":2.36},{"dur":11.6,"ppl":2.07},
        {"dur":12.45,"ppl":2.27},{"dur":12.95,"ppl":2.03},{"dur":12.2,"ppl":2.44},{"dur":12.7,"ppl":2.15},{"dur":12.0,"ppl":2.34},{"dur":12.5,"ppl":1.91},{"dur":12.85,"ppl":2.22},{"dur":12.3,"ppl":2.39},{"dur":12.6,"ppl":2.08},
        {"dur":13.45,"ppl":2.01},{"dur":13.95,"ppl":2.32},{"dur":13.2,"ppl":2.49},{"dur":13.7,"ppl":2.18},{"dur":13.0,"ppl":2.66},{"dur":13.5,"ppl":2.08},{"dur":13.85,"ppl":2.3},{"dur":13.3,"ppl":2.37},{"dur":13.6,"ppl":2.13},
        {"dur":14.45,"ppl":2.11},{"dur":14.95,"ppl":2.38},{"dur":14.2,"ppl":2.47},{"dur":14.7,"ppl":2.17},{"dur":14.0,"ppl":2.68},{"dur":14.5,"ppl":2.32},{"dur":14.85,"ppl":2.56},{"dur":14.3,"ppl":2.02},{"dur":14.6,"ppl":2.41},
        {"dur":15.45,"ppl":2.41},{"dur":15.95,"ppl":2.65},{"dur":15.2,"ppl":2.11},{"dur":15.7,"ppl":2.5},{"dur":15.0,"ppl":2.71},{"dur":15.5,"ppl":2.32},{"dur":15.85,"ppl":2.92},{"dur":15.3,"ppl":2.2},{"dur":15.6,"ppl":2.47},
        {"dur":16.45,"ppl":2.39},{"dur":16.95,"ppl":2.99},{"dur":16.2,"ppl":2.27},{"dur":16.7,"ppl":2.54},{"dur":16.0,"ppl":2.63},{"dur":16.5,"ppl":2.33},{"dur":16.85,"ppl":2.84},{"dur":16.3,"ppl":2.48},{"dur":16.6,"ppl":2.72},
        {"dur":17.45,"ppl":2.4},{"dur":17.95,"ppl":2.91},{"dur":17.2,"ppl":2.55},{"dur":17.7,"ppl":2.79},{"dur":17.0,"ppl":2.25},{"dur":17.5,"ppl":2.64},{"dur":17.85,"ppl":2.85},{"dur":17.3,"ppl":2.46},{"dur":17.6,"ppl":3.06},
        {"dur":18.45,"ppl":2.71},{"dur":18.95,"ppl":2.92},{"dur":18.2,"ppl":2.53},{"dur":18.7,"ppl":3.13},{"dur":18.0,"ppl":2.41},{"dur":18.5,"ppl":2.68},{"dur":18.85,"ppl":2.77},{"dur":18.3,"ppl":2.47},{"dur":18.6,"ppl":2.98},
        {"dur":19.45,"ppl":2.76},{"dur":19.95,"ppl":2.85},{"dur":19.2,"ppl":2.55},{"dur":19.7,"ppl":3.06},{"dur":19.0,"ppl":2.7},{"dur":19.5,"ppl":2.94},{"dur":19.85,"ppl":2.4},{"dur":19.3,"ppl":2.79},{"dur":19.6,"ppl":3.0},
        {"dur":20.45,"ppl":3.05},{"dur":20.95,"ppl":2.4},{"dur":20.2,"ppl":2.87},{"dur":20.7,"ppl":3.12},{"dur":20.0,"ppl":2.65},{"dur":20.5,"ppl":3.37},{"dur":20.85,"ppl":2.51},{"dur":20.3,"ppl":2.83},{"dur":20.6,"ppl":2.94},
        {"dur":21.45,"ppl":3.44},{"dur":21.95,"ppl":2.58},{"dur":21.2,"ppl":2.9},{"dur":21.7,"ppl":3.01},{"dur":21.0,"ppl":2.65},{"dur":21.5,"ppl":3.26},{"dur":21.85,"ppl":2.83},{"dur":21.3,"ppl":3.12},{"dur":21.6,"ppl":2.47},
        {"dur":22.45,"ppl":3.32},{"dur":22.95,"ppl":2.89},{"dur":22.2,"ppl":3.18},{"dur":22.7,"ppl":2.53},{"dur":22.0,"ppl":3.0},{"dur":22.5,"ppl":3.25},{"dur":22.85,"ppl":2.78},{"dur":22.3,"ppl":3.5},{"dur":22.6,"ppl":2.64},
        {"dur":23.45,"ppl":3.31},{"dur":23.95,"ppl":2.84},{"dur":23.2,"ppl":3.56},{"dur":23.7,"ppl":2.7},{"dur":23.0,"ppl":3.02},{"dur":23.5,"ppl":3.13},{"dur":23.85,"ppl":2.77},{"dur":23.3,"ppl":3.38},{"dur":23.6,"ppl":2.95},
        {"dur":24.45,"ppl":3.19},{"dur":24.95,"ppl":2.83},{"dur":24.2,"ppl":3.44},{"dur":24.7,"ppl":3.01},{"dur":24.0,"ppl":3.3},{"dur":24.5,"ppl":2.65},{"dur":24.85,"ppl":3.12},{"dur":24.3,"ppl":3.37},{"dur":24.6,"ppl":2.9},
        {"dur":25.45,"ppl":2.71},{"dur":25.95,"ppl":3.18},{"dur":25.2,"ppl":3.43},{"dur":25.7,"ppl":2.96},{"dur":25.0,"ppl":3.68},{"dur":25.5,"ppl":2.82},{"dur":25.85,"ppl":3.14},{"dur":25.3,"ppl":3.25},{"dur":25.6,"ppl":2.89},{"dur":25.1,"ppl":3.5},{"dur":25.8,"ppl":3.07},{"dur":25.35,"ppl":3.36},
        {"dur":26.45,"ppl":2.88},{"dur":26.95,"ppl":3.2},{"dur":26.2,"ppl":3.31},{"dur":26.7,"ppl":2.95},{"dur":26.0,"ppl":3.56},{"dur":26.5,"ppl":3.13},{"dur":26.85,"ppl":3.42},{"dur":26.3,"ppl":2.77},{"dur":26.6,"ppl":3.24},{"dur":26.1,"ppl":3.49},{"dur":26.8,"ppl":3.02},{"dur":26.35,"ppl":3.74},
        {"dur":27.45,"ppl":3.18},{"dur":27.95,"ppl":3.51},{"dur":27.2,"ppl":2.76},{"dur":27.7,"ppl":3.3},{"dur":27.0,"ppl":3.6},{"dur":27.5,"ppl":3.05},{"dur":27.85,"ppl":3.89},{"dur":27.3,"ppl":2.88},{"dur":27.6,"ppl":3.26},{"dur":27.1,"ppl":3.39},{"dur":27.8,"ppl":2.97},{"dur":27.35,"ppl":3.68},
        {"dur":28.45,"ppl":3.11},{"dur":28.95,"ppl":3.95},{"dur":28.2,"ppl":2.94},{"dur":28.7,"ppl":3.32},{"dur":28.0,"ppl":3.45},{"dur":28.5,"ppl":3.03},{"dur":28.85,"ppl":3.74},{"dur":28.3,"ppl":3.24},{"dur":28.6,"ppl":3.57},{"dur":28.1,"ppl":2.82},{"dur":28.8,"ppl":3.36},{"dur":28.35,"ppl":3.66},
        {"dur":29.45,"ppl":3.09},{"dur":29.95,"ppl":3.8},{"dur":29.2,"ppl":3.3},{"dur":29.7,"ppl":3.63},{"dur":29.0,"ppl":2.88},{"dur":29.5,"ppl":3.42},{"dur":29.85,"ppl":3.72},{"dur":29.3,"ppl":3.17},{"dur":29.6,"ppl":4.01},{"dur":29.1,"ppl":3.0},{"dur":29.8,"ppl":3.38},{"dur":29.35,"ppl":3.51},
        {"dur":30.45,"ppl":3.47},{"dur":30.95,"ppl":3.77},{"dur":30.2,"ppl":3.22},{"dur":30.7,"ppl":4.06},{"dur":30.0,"ppl":3.05},{"dur":30.5,"ppl":3.43},{"dur":30.85,"ppl":3.56},{"dur":30.3,"ppl":3.14},{"dur":30.6,"ppl":3.85},{"dur":30.1,"ppl":3.35},{"dur":30.8,"ppl":3.68},{"dur":30.35,"ppl":2.93},
        {"dur":31.45,"ppl":3.48},{"dur":31.95,"ppl":3.61},{"dur":31.2,"ppl":3.19},{"dur":31.7,"ppl":3.9},{"dur":31.0,"ppl":3.4},{"dur":31.5,"ppl":3.73},{"dur":31.85,"ppl":2.98},{"dur":31.3,"ppl":3.52},{"dur":31.6,"ppl":3.82},{"dur":31.1,"ppl":3.27},{"dur":31.8,"ppl":4.11},{"dur":31.35,"ppl":3.1},
        {"dur":32.45,"ppl":3.78},{"dur":32.95,"ppl":3.03},{"dur":32.2,"ppl":3.57},{"dur":32.7,"ppl":3.87},{"dur":32.0,"ppl":3.32},{"dur":32.5,"ppl":4.16},{"dur":32.85,"ppl":3.15},{"dur":32.3,"ppl":3.53},{"dur":32.6,"ppl":3.66},{"dur":32.1,"ppl":3.24},{"dur":32.8,"ppl":3.95},{"dur":32.35,"ppl":3.45},
        {"dur":33.45,"ppl":4.21},{"dur":33.95,"ppl":3.2},{"dur":33.2,"ppl":3.58},{"dur":33.7,"ppl":3.71},{"dur":33.0,"ppl":3.29},{"dur":33.5,"ppl":4.0},{"dur":33.85,"ppl":3.5},{"dur":33.3,"ppl":3.83},{"dur":33.6,"ppl":3.08},{"dur":33.1,"ppl":3.62},{"dur":33.8,"ppl":3.92},{"dur":33.35,"ppl":3.37},
        {"dur":34.45,"ppl":4.05},{"dur":34.95,"ppl":3.55},{"dur":34.2,"ppl":3.88},{"dur":34.7,"ppl":3.13},{"dur":34.0,"ppl":3.67},{"dur":34.5,"ppl":3.97},{"dur":34.85,"ppl":3.42},{"dur":34.3,"ppl":4.26},{"dur":34.6,"ppl":3.25},{"dur":34.1,"ppl":3.63},{"dur":34.8,"ppl":3.76},{"dur":34.35,"ppl":3.34},
        {"dur":35.45,"ppl":4.06},{"dur":35.95,"ppl":3.44},{"dur":35.2,"ppl":4.4},{"dur":35.7,"ppl":3.25},{"dur":35.0,"ppl":3.68},{"dur":35.5,"ppl":3.82},{"dur":35.85,"ppl":3.34},{"dur":35.3,"ppl":4.16},{"dur":35.6,"ppl":3.58},{"dur":35.1,"ppl":3.97},{"dur":35.8,"ppl":3.1},{"dur":35.35,"ppl":3.73},
        {"dur":36.45,"ppl":3.88},{"dur":36.95,"ppl":3.4},{"dur":36.2,"ppl":4.22},{"dur":36.7,"ppl":3.64},{"dur":36.0,"ppl":4.03},{"dur":36.5,"ppl":3.16},{"dur":36.85,"ppl":3.79},{"dur":36.3,"ppl":4.12},{"dur":36.6,"ppl":3.5},{"dur":36.1,"ppl":4.46},{"dur":36.8,"ppl":3.31},{"dur":36.35,"ppl":3.74},
        {"dur":37.45,"ppl":3.22},{"dur":37.95,"ppl":3.85},{"dur":37.2,"ppl":4.18},{"dur":37.7,"ppl":3.56},{"dur":37.0,"ppl":4.52},{"dur":37.5,"ppl":3.37},{"dur":37.85,"ppl":3.8},{"dur":37.3,"ppl":3.94},{"dur":37.6,"ppl":3.46},{"dur":37.1,"ppl":4.28},{"dur":37.8,"ppl":3.7},{"dur":37.35,"ppl":4.09},
        {"dur":38.45,"ppl":3.43},{"dur":38.95,"ppl":3.86},{"dur":38.2,"ppl":4.0},{"dur":38.7,"ppl":3.52},{"dur":38.0,"ppl":4.34},{"dur":38.5,"ppl":3.76},{"dur":38.85,"ppl":4.15},{"dur":38.3,"ppl":3.28},{"dur":38.6,"ppl":3.91},{"dur":38.1,"ppl":4.24},{"dur":38.8,"ppl":3.62},{"dur":38.35,"ppl":4.58},
        {"dur":39.45,"ppl":3.82},{"dur":39.95,"ppl":4.21},{"dur":39.2,"ppl":3.34},{"dur":39.7,"ppl":3.97},{"dur":39.0,"ppl":4.3},{"dur":39.5,"ppl":3.68},{"dur":39.85,"ppl":4.64},{"dur":39.3,"ppl":3.49},{"dur":39.6,"ppl":3.92},{"dur":39.1,"ppl":4.06},{"dur":39.8,"ppl":3.58},{"dur":39.35,"ppl":4.4},
        {"dur":40.45,"ppl":3.74},{"dur":40.95,"ppl":4.7},{"dur":40.2,"ppl":3.55},{"dur":40.7,"ppl":3.98},{"dur":40.0,"ppl":4.12},{"dur":40.5,"ppl":3.64},{"dur":40.85,"ppl":4.46},{"dur":40.3,"ppl":3.88},{"dur":40.6,"ppl":4.27},{"dur":40.1,"ppl":3.4},{"dur":40.8,"ppl":4.03},{"dur":40.35,"ppl":4.36},
        {"dur":41.45,"ppl":3.7},{"dur":41.95,"ppl":4.52},{"dur":41.2,"ppl":3.94},{"dur":41.7,"ppl":4.33},{"dur":41.0,"ppl":3.46},{"dur":41.5,"ppl":4.09},{"dur":41.85,"ppl":4.42},{"dur":41.3,"ppl":3.8},{"dur":41.6,"ppl":4.76},{"dur":41.1,"ppl":3.61},{"dur":41.8,"ppl":4.04},{"dur":41.35,"ppl":4.18},
        {"dur":42.45,"ppl":4.15},{"dur":42.95,"ppl":4.48},{"dur":42.2,"ppl":3.86},{"dur":42.7,"ppl":4.82},{"dur":42.0,"ppl":3.67},{"dur":42.5,"ppl":4.1},{"dur":42.85,"ppl":4.24},{"dur":42.3,"ppl":3.76},{"dur":42.6,"ppl":4.58},{"dur":42.1,"ppl":4.0},{"dur":42.8,"ppl":4.39},{"dur":42.35,"ppl":3.52},
        {"dur":43.45,"ppl":4.16},{"dur":43.95,"ppl":4.3},{"dur":43.2,"ppl":3.82},{"dur":43.7,"ppl":4.64},{"dur":43.0,"ppl":4.06},{"dur":43.5,"ppl":4.45},{"dur":43.85,"ppl":3.58},{"dur":43.3,"ppl":4.21},{"dur":43.6,"ppl":4.54},{"dur":43.1,"ppl":3.92},{"dur":43.8,"ppl":4.88},{"dur":43.35,"ppl":3.73},
        {"dur":44.45,"ppl":4.51},{"dur":44.95,"ppl":3.64},{"dur":44.2,"ppl":4.27},{"dur":44.7,"ppl":4.6},{"dur":44.0,"ppl":3.98},{"dur":44.5,"ppl":4.94},{"dur":44.85,"ppl":3.79},{"dur":44.3,"ppl":4.22},{"dur":44.6,"ppl":4.36},{"dur":44.1,"ppl":3.88},{"dur":44.8,"ppl":4.7},{"dur":44.35,"ppl":4.12},
        {"dur":45.45,"ppl":5.09},{"dur":45.95,"ppl":3.79},{"dur":45.2,"ppl":4.28},{"dur":45.7,"ppl":4.44},{"dur":45.0,"ppl":3.9},{"dur":45.5,"ppl":4.82},{"dur":45.85,"ppl":4.17},{"dur":45.3,"ppl":4.6},{"dur":45.6,"ppl":3.63},{"dur":45.1,"ppl":4.33},{"dur":45.8,"ppl":4.71},{"dur":45.35,"ppl":4.01},
        {"dur":46.45,"ppl":4.88},{"dur":46.95,"ppl":4.23},{"dur":46.2,"ppl":4.66},{"dur":46.7,"ppl":3.69},{"dur":46.0,"ppl":4.39},{"dur":46.5,"ppl":4.77},{"dur":46.85,"ppl":4.07},{"dur":46.3,"ppl":5.15},{"dur":46.6,"ppl":3.85},{"dur":46.1,"ppl":4.34},{"dur":46.8,"ppl":4.5},{"dur":46.35,"ppl":3.96},
        {"dur":47.45,"ppl":4.83},{"dur":47.95,"ppl":4.13},{"dur":47.2,"ppl":5.21},{"dur":47.7,"ppl":3.91},{"dur":47.0,"ppl":4.4},{"dur":47.5,"ppl":4.56},{"dur":47.85,"ppl":4.02},{"dur":47.3,"ppl":4.94},{"dur":47.6,"ppl":4.29},{"dur":47.1,"ppl":4.72},{"dur":47.8,"ppl":3.75},{"dur":47.35,"ppl":4.45},
        {"dur":48.45,"ppl":4.62},{"dur":48.95,"ppl":4.08},{"dur":48.2,"ppl":5.0},{"dur":48.7,"ppl":4.35},{"dur":48.0,"ppl":4.78},{"dur":48.5,"ppl":3.81},{"dur":48.85,"ppl":4.51},{"dur":48.3,"ppl":4.89},{"dur":48.6,"ppl":4.19},{"dur":48.1,"ppl":5.27},{"dur":48.8,"ppl":3.97},{"dur":48.35,"ppl":4.46},
        {"dur":49.45,"ppl":3.87},{"dur":49.95,"ppl":4.57},{"dur":49.2,"ppl":4.95},{"dur":49.7,"ppl":4.25},{"dur":49.0,"ppl":5.33},{"dur":49.5,"ppl":4.03},{"dur":49.85,"ppl":4.52},{"dur":49.3,"ppl":4.68},{"dur":49.6,"ppl":4.14},{"dur":49.1,"ppl":5.06},{"dur":49.8,"ppl":4.41},{"dur":49.35,"ppl":4.84},
        {"dur":50.45,"ppl":4.09},{"dur":50.95,"ppl":4.58},{"dur":50.2,"ppl":4.74},{"dur":50.7,"ppl":4.2},{"dur":50.0,"ppl":5.12},{"dur":50.5,"ppl":4.47},{"dur":50.85,"ppl":4.9},{"dur":50.3,"ppl":3.93},{"dur":50.6,"ppl":4.63},{"dur":50.1,"ppl":5.01},{"dur":50.8,"ppl":4.31},{"dur":50.35,"ppl":5.39},
        {"dur":51.45,"ppl":4.52},{"dur":51.95,"ppl":4.95},{"dur":51.2,"ppl":3.98},{"dur":51.7,"ppl":4.68},{"dur":51.0,"ppl":5.06},{"dur":51.5,"ppl":4.36},{"dur":51.85,"ppl":5.44},{"dur":51.3,"ppl":4.14},{"dur":51.6,"ppl":4.63},{"dur":51.1,"ppl":4.79},{"dur":51.8,"ppl":4.25},{"dur":51.35,"ppl":5.17},
        {"dur":52.45,"ppl":4.41},{"dur":52.95,"ppl":5.49},{"dur":52.2,"ppl":4.19},{"dur":52.7,"ppl":4.68},{"dur":52.0,"ppl":4.84},{"dur":52.5,"ppl":4.3},{"dur":52.85,"ppl":5.22},{"dur":52.3,"ppl":4.57},{"dur":52.6,"ppl":5.0},{"dur":52.1,"ppl":4.03},{"dur":52.8,"ppl":4.73},{"dur":52.35,"ppl":5.11},
        {"dur":53.45,"ppl":4.35},{"dur":53.95,"ppl":5.27},{"dur":53.2,"ppl":4.62},{"dur":53.7,"ppl":5.05},{"dur":53.0,"ppl":4.08},{"dur":53.5,"ppl":4.78},{"dur":53.85,"ppl":5.16},{"dur":53.3,"ppl":4.46},{"dur":53.6,"ppl":5.54},{"dur":53.1,"ppl":4.24},{"dur":53.8,"ppl":4.73},{"dur":53.35,"ppl":4.89},
        {"dur":54.45,"ppl":4.83},{"dur":54.95,"ppl":5.21},{"dur":54.2,"ppl":4.51},{"dur":54.7,"ppl":5.59},{"dur":54.0,"ppl":4.29},{"dur":54.5,"ppl":4.78},{"dur":54.85,"ppl":4.94},{"dur":54.3,"ppl":4.4},{"dur":54.6,"ppl":5.32},{"dur":54.1,"ppl":4.67},{"dur":54.8,"ppl":5.1},{"dur":54.35,"ppl":4.13},
        {"dur":55.45,"ppl":4.84},{"dur":55.95,"ppl":5.02},{"dur":55.2,"ppl":4.42},{"dur":55.7,"ppl":5.44},{"dur":55.0,"ppl":4.72},{"dur":55.5,"ppl":5.2},{"dur":55.85,"ppl":4.12},{"dur":55.3,"ppl":4.9},{"dur":55.6,"ppl":5.32},{"dur":55.1,"ppl":4.54},{"dur":55.8,"ppl":5.74},{"dur":55.35,"ppl":4.3},
        {"dur":56.45,"ppl":5.26},{"dur":56.95,"ppl":4.18},{"dur":56.2,"ppl":4.96},{"dur":56.7,"ppl":5.38},{"dur":56.0,"ppl":4.6},{"dur":56.5,"ppl":5.8},{"dur":56.85,"ppl":4.36},{"dur":56.3,"ppl":4.9},{"dur":56.6,"ppl":5.08},{"dur":56.1,"ppl":4.48},
        {"dur":57.45,"ppl":5.86},{"dur":57.95,"ppl":4.42},{"dur":57.2,"ppl":4.96},{"dur":57.7,"ppl":5.14},{"dur":57.0,"ppl":4.54},{"dur":57.5,"ppl":5.56},{"dur":57.85,"ppl":4.84},{"dur":57.3,"ppl":5.32},{"dur":57.6,"ppl":4.24},{"dur":57.1,"ppl":5.02},
        {"dur":58.45,"ppl":5.62},{"dur":58.95,"ppl":4.9},{"dur":58.2,"ppl":5.38},{"dur":58.7,"ppl":4.3},{"dur":58.0,"ppl":5.08},{"dur":58.5,"ppl":5.5},{"dur":58.85,"ppl":4.72},{"dur":58.3,"ppl":5.92},{"dur":58.6,"ppl":4.48},{"dur":58.1,"ppl":5.02},
        {"dur":59.45,"ppl":5.56},{"dur":59.95,"ppl":4.78},{"dur":59.2,"ppl":5.98},{"dur":59.7,"ppl":4.54},{"dur":59.0,"ppl":5.08},{"dur":59.5,"ppl":5.26},{"dur":59.85,"ppl":4.66},{"dur":59.3,"ppl":5.68},{"dur":59.6,"ppl":4.96},{"dur":59.1,"ppl":5.44},
        {"dur":60.45,"ppl":5.32},{"dur":60.95,"ppl":4.72},{"dur":60.2,"ppl":5.74},{"dur":60.7,"ppl":5.02},{"dur":60.0,"ppl":5.5},{"dur":60.5,"ppl":4.42},{"dur":60.85,"ppl":5.2},{"dur":60.3,"ppl":5.62},{"dur":60.6,"ppl":4.84},{"dur":60.1,"ppl":6.04},
        {"dur":61.45,"ppl":4.48},{"dur":61.95,"ppl":5.26},{"dur":61.2,"ppl":5.68},{"dur":61.7,"ppl":4.9},{"dur":61.0,"ppl":6.1},{"dur":61.5,"ppl":4.66},{"dur":61.85,"ppl":5.2},{"dur":61.3,"ppl":5.38},{"dur":61.6,"ppl":4.78},{"dur":61.1,"ppl":5.8},
        {"dur":62.45,"ppl":4.7},{"dur":62.95,"ppl":5.24},{"dur":62.2,"ppl":5.42},{"dur":62.7,"ppl":4.82},{"dur":62.0,"ppl":5.84},{"dur":62.5,"ppl":5.12},{"dur":62.85,"ppl":5.6},{"dur":62.3,"ppl":4.52},{"dur":62.6,"ppl":5.3},{"dur":62.1,"ppl":5.72},
        {"dur":40.3,"ppl":5.1},{"dur":41.6,"ppl":5.3},{"dur":42.9,"ppl":5.2},{"dur":44.1,"ppl":5.5},{"dur":45.4,"ppl":5.6},{"dur":46.7,"ppl":5.7},{"dur":47.9,"ppl":5.8},{"dur":49.2,"ppl":5.9},{"dur":50.5,"ppl":6.0},{"dur":51.7,"ppl":6.1},{"dur":53.0,"ppl":6.0},{"dur":54.2,"ppl":6.2},{"dur":55.5,"ppl":6.3},{"dur":56.7,"ppl":6.2},{"dur":57.9,"ppl":6.4},{"dur":59.1,"ppl":6.3},{"dur":60.3,"ppl":6.5},{"dur":61.5,"ppl":6.4},{"dur":62.7,"ppl":6.2},{"dur":58.5,"ppl":6.0},{"dur":60.9,"ppl":6.1},{"dur":59.7,"ppl":5.9},{"dur":61.2,"ppl":5.7},{"dur":62.4,"ppl":5.9},{"dur":57.3,"ppl":5.8},
        {"dur":42.5,"ppl":3.2},{"dur":44.0,"ppl":3.3},{"dur":45.5,"ppl":3.4},{"dur":47.0,"ppl":3.5},{"dur":48.5,"ppl":3.6},{"dur":50.0,"ppl":3.7},{"dur":51.5,"ppl":3.8},{"dur":53.0,"ppl":3.9},{"dur":54.5,"ppl":4.0},{"dur":56.0,"ppl":4.1},{"dur":57.5,"ppl":4.2},{"dur":59.0,"ppl":4.3},{"dur":60.5,"ppl":4.0},{"dur":62.0,"ppl":4.3},{"dur":43.5,"ppl":3.0},{"dur":46.5,"ppl":3.2},{"dur":49.5,"ppl":3.4},{"dur":52.5,"ppl":3.5},{"dur":55.5,"ppl":3.7},{"dur":58.5,"ppl":3.9},
        {"dur":40.5,"ppl":2.6},{"dur":41.3,"ppl":2.3},{"dur":42.1,"ppl":2.75},{"dur":43.0,"ppl":2.45},{"dur":43.8,"ppl":2.9},{"dur":44.6,"ppl":2.6},{"dur":45.3,"ppl":2.35},{"dur":46.1,"ppl":2.8},{"dur":47.0,"ppl":2.5},{"dur":47.8,"ppl":2.95},{"dur":48.6,"ppl":2.7},{"dur":49.4,"ppl":2.4},{"dur":50.2,"ppl":2.85},{"dur":51.0,"ppl":2.6},{"dur":51.8,"ppl":3.05},{"dur":52.5,"ppl":2.75},{"dur":53.3,"ppl":3.1},{"dur":54.1,"ppl":2.55},{"dur":55.0,"ppl":2.95},{"dur":55.8,"ppl":3.4},{"dur":56.6,"ppl":2.7},{"dur":57.4,"ppl":3.15},{"dur":58.2,"ppl":2.9},{"dur":59.0,"ppl":3.5},{"dur":59.8,"ppl":3.2},{"dur":60.6,"ppl":3.7},{"dur":61.4,"ppl":3.4},{"dur":62.2,"ppl":3.9},{"dur":63.1,"ppl":3.6},{"dur":64.0,"ppl":4.0},{"dur":65.0,"ppl":3.3},{"dur":66.0,"ppl":4.1},{"dur":67.2,"ppl":3.9},{"dur":68.4,"ppl":4.4},{"dur":69.6,"ppl":3.6},
        {"dur":70.0,"ppl":7.35},{"dur":71.6,"ppl":7.1},{"dur":73.8,"ppl":6.9},{"dur":69.0,"ppl":6.75},{"dur":72.2,"ppl":6.5},{"dur":74.4,"ppl":6.3},{"dur":67.5,"ppl":6.9},{"dur":65.8,"ppl":7.2},{"dur":63.4,"ppl":7.1},{"dur":66.9,"ppl":6.4},{"dur":68.5,"ppl":6.1},{"dur":71.0,"ppl":5.9},{"dur":73.3,"ppl":5.7},{"dur":75.1,"ppl":6.0},{"dur":77.2,"ppl":6.6},{"dur":79.0,"ppl":6.3},{"dur":80.4,"ppl":6.0},{"dur":81.6,"ppl":6.5},{"dur":78.1,"ppl":7.0},{"dur":75.8,"ppl":6.7},
        {"dur":19.1,"ppl":1.49},{"dur":19.3,"ppl":1.66},{"dur":22.5,"ppl":1.71},{"dur":26.5,"ppl":1.82},{"dur":34.3,"ppl":1.71},{"dur":33.2,"ppl":1.93},{"dur":37.5,"ppl":1.85},{"dur":39.3,"ppl":1.77},{"dur":44.0,"ppl":2.05},{"dur":45.7,"ppl":1.85},{"dur":46.9,"ppl":2.13},{"dur":49.9,"ppl":1.99},{"dur":53.0,"ppl":1.92},{"dur":56.9,"ppl":1.79},{"dur":56.7,"ppl":1.46},{"dur":52.6,"ppl":2.24},{"dur":53.9,"ppl":2.31},{"dur":52.9,"ppl":2.55},{"dur":56.9,"ppl":2.49},{"dur":54.5,"ppl":2.83},{"dur":53.2,"ppl":2.83},{"dur":57.5,"ppl":2.83},{"dur":61.3,"ppl":2.94},{"dur":64.8,"ppl":2.94},{"dur":66.5,"ppl":3.02},{"dur":68.2,"ppl":3.1},{"dur":71.6,"ppl":2.56},{"dur":70.3,"ppl":3.44},{"dur":73.4,"ppl":3.33},{"dur":73.9,"ppl":3.22},{"dur":77.7,"ppl":3.55},{"dur":78.1,"ppl":3.58},{"dur":78.9,"ppl":3.16},{"dur":81.1,"ppl":3.55},{"dur":84.5,"ppl":3.6},{"dur":80.8,"ppl":4.28},{"dur":83.4,"ppl":4.12},{"dur":86.5,"ppl":4.33},{"dur":88.7,"ppl":4.36},{"dur":95.5,"ppl":4.17},{"dur":94.4,"ppl":4.69},{"dur":92.6,"ppl":5.14},{"dur":86.8,"ppl":4.97},{"dur":85.2,"ppl":5.14},{"dur":84.0,"ppl":4.75},{"dur":81.6,"ppl":4.55},{"dur":81.9,"ppl":4.72},{"dur":79.0,"ppl":4.53},{"dur":77.7,"ppl":4.5},{"dur":77.9,"ppl":4.72},{"dur":78.4,"ppl":5.03},{"dur":76.0,"ppl":4.36},{"dur":75.8,"ppl":4.02},{"dur":75.5,"ppl":3.83},{"dur":73.2,"ppl":4.78},{"dur":73.9,"ppl":4.61},{"dur":70.3,"ppl":4.25},{"dur":71.3,"ppl":4.25},{"dur":71.9,"ppl":4.19},{"dur":68.7,"ppl":3.94},{"dur":69.5,"ppl":3.75},{"dur":67.9,"ppl":3.72},{"dur":66.9,"ppl":3.66},{"dur":66.1,"ppl":3.55},{"dur":65.2,"ppl":3.72},{"dur":62.6,"ppl":3.27},{"dur":63.5,"ppl":3.24},{"dur":60.0,"ppl":3.38},{"dur":58.9,"ppl":3.1},{"dur":57.4,"ppl":3.3},{"dur":56.3,"ppl":3.13},{"dur":54.5,"ppl":3.33},{"dur":53.5,"ppl":3.36},{"dur":51.3,"ppl":3.72},
        {"dur":3.65,"ppl":3.27},{"dur":5.4,"ppl":3.27},{"dur":5.3,"ppl":3.13},{"dur":4.0,"ppl":2.58},{"dur":3.0,"ppl":2.21},{"dur":7.2,"ppl":2.99},{"dur":7.4,"ppl":2.83},{"dur":8.8,"ppl":4.28},{"dur":10.4,"ppl":4.5},{"dur":11.9,"ppl":4.28},{"dur":12.8,"ppl":4.64},{"dur":14.0,"ppl":4.67},{"dur":14.5,"ppl":4.16},{"dur":11.7,"ppl":3.83},{"dur":12.9,"ppl":3.83},{"dur":14.0,"ppl":3.5},{"dur":14.4,"ppl":5.17},{"dur":15.4,"ppl":5.11},{"dur":18.5,"ppl":5.0},{"dur":16.9,"ppl":4.58},{"dur":17.8,"ppl":4.72},{"dur":18.8,"ppl":4.72},{"dur":20.7,"ppl":4.55},{"dur":23.3,"ppl":4.64},{"dur":23.8,"ppl":4.64},{"dur":17.7,"ppl":4.02},{"dur":19.1,"ppl":4.08},{"dur":20.4,"ppl":4.11},{"dur":21.4,"ppl":4.05},{"dur":22.7,"ppl":4.14},{"dur":24.0,"ppl":4.08},{"dur":25.3,"ppl":4.94},{"dur":25.6,"ppl":4.97},{"dur":26.9,"ppl":4.78},{"dur":29.6,"ppl":4.94},{"dur":28.5,"ppl":4.55},{"dur":29.8,"ppl":4.64},{"dur":30.4,"ppl":5.28},{"dur":28.2,"ppl":5.25},{"dur":14.6,"ppl":3.86},{"dur":16.6,"ppl":3.89},{"dur":12.7,"ppl":3.83},
        {"dur":46.0,"ppl":12.14},{"dur":46.2,"ppl":11.94},{"dur":49.2,"ppl":12.17},{"dur":39.1,"ppl":11.1},{"dur":43.1,"ppl":11.05},{"dur":44.8,"ppl":10.95},{"dur":48.4,"ppl":10.97},{"dur":41.8,"ppl":10.7},{"dur":35.3,"ppl":10.47},{"dur":37.6,"ppl":10.15},{"dur":41.0,"ppl":10.4},{"dur":41.7,"ppl":10.4},{"dur":42.5,"ppl":10.45},{"dur":43.1,"ppl":10.45},{"dur":44.7,"ppl":10.43},{"dur":45.8,"ppl":10.45},{"dur":46.3,"ppl":10.39},{"dur":49.4,"ppl":10.32},{"dur":22.3,"ppl":10.12},{"dur":31.5,"ppl":10.0},{"dur":50.9,"ppl":10.0},{"dur":48.4,"ppl":9.73},{"dur":50.2,"ppl":9.63},{"dur":41.0,"ppl":9.62},{"dur":42.3,"ppl":9.58},{"dur":34.4,"ppl":9.36},{"dur":41.6,"ppl":9.25},{"dur":43.4,"ppl":9.2},{"dur":41.6,"ppl":9.05},{"dur":47.8,"ppl":9.23},{"dur":48.0,"ppl":9.27},{"dur":29.1,"ppl":9.09},{"dur":39.4,"ppl":8.77},{"dur":39.55,"ppl":8.74},{"dur":37.2,"ppl":8.68},{"dur":37.1,"ppl":8.54},{"dur":44.2,"ppl":8.74},{"dur":47.6,"ppl":8.77},{"dur":50.7,"ppl":8.82},{"dur":36.3,"ppl":8.4},{"dur":39.7,"ppl":8.41},{"dur":43.2,"ppl":8.41},{"dur":44.2,"ppl":8.32},{"dur":45.9,"ppl":8.28},{"dur":48.9,"ppl":8.51},{"dur":32.4,"ppl":8.31},{"dur":28.8,"ppl":8.18},{"dur":31.5,"ppl":8.01},{"dur":36.2,"ppl":8.01},{"dur":36.3,"ppl":7.91},{"dur":39.7,"ppl":7.98},{"dur":39.1,"ppl":7.81},{"dur":41.8,"ppl":7.91},{"dur":43.4,"ppl":8.01},{"dur":44.2,"ppl":8.01},{"dur":47.7,"ppl":7.87},{"dur":51.2,"ppl":7.78},{"dur":13.0,"ppl":7.78},{"dur":31.6,"ppl":7.55},{"dur":32.1,"ppl":7.55},{"dur":32.8,"ppl":7.56},{"dur":36.6,"ppl":7.65},{"dur":37.6,"ppl":7.67},{"dur":36.5,"ppl":7.44},{"dur":43.4,"ppl":7.6},{"dur":38.4,"ppl":7.38},{"dur":39.2,"ppl":7.29},{"dur":37.8,"ppl":7.25},{"dur":15.6,"ppl":7.02},{"dur":15.5,"ppl":7.03},{"dur":12.3,"ppl":6.79},{"dur":34.5,"ppl":7.15},{"dur":34.4,"ppl":7.06},{"dur":36.3,"ppl":7.12},{"dur":35.8,"ppl":6.92},{"dur":35.3,"ppl":6.72},{"dur":32.6,"ppl":6.96},{"dur":30.0,"ppl":6.89},{"dur":26.8,"ppl":6.92},{"dur":27.6,"ppl":6.76},{"dur":28.1,"ppl":6.66},{"dur":27.7,"ppl":6.53},{"dur":39.2,"ppl":6.86},{"dur":38.9,"ppl":6.59},{"dur":43.4,"ppl":7.15},{"dur":48.5,"ppl":7.09},{"dur":46.5,"ppl":6.96},{"dur":44.6,"ppl":6.69},{"dur":42.8,"ppl":6.56},{"dur":46.3,"ppl":6.66},{"dur":47.2,"ppl":6.56},{"dur":18.9,"ppl":6.89},{"dur":19.8,"ppl":6.76},{"dur":20.3,"ppl":6.53},{"dur":21.3,"ppl":6.43},{"dur":22.6,"ppl":6.53},{"dur":19.5,"ppl":6.33},{"dur":20.1,"ppl":6.23},{"dur":24.7,"ppl":6.66},{"dur":26.3,"ppl":6.63},{"dur":22.7,"ppl":6.1},{"dur":26.9,"ppl":6.13},{"dur":34.9,"ppl":6.16},{"dur":36.2,"ppl":6.03},{"dur":33.2,"ppl":5.99},{"dur":31.0,"ppl":5.83},{"dur":28.7,"ppl":5.8},{"dur":28.4,"ppl":5.64},{"dur":28.2,"ppl":5.47},{"dur":26.1,"ppl":5.65},{"dur":14.6,"ppl":5.58},{"dur":20.5,"ppl":5.67},{"dur":21.4,"ppl":5.44},{"dur":33.1,"ppl":5.42},{"dur":30.7,"ppl":5.31},{"dur":25.3,"ppl":5.37},{"dur":14.2,"ppl":5.21},{"dur":15.6,"ppl":5.12},{"dur":18.5,"ppl":5.01},{"dur":36.0,"ppl":5.57},
        {"dur":59.35,"ppl":13.35},{"dur":59.35,"ppl":12.77},{"dur":69.4,"ppl":12.51},{"dur":60.5,"ppl":11.87},{"dur":67.6,"ppl":11.8},{"dur":73.5,"ppl":11.88},{"dur":56.4,"ppl":11.43},{"dur":61.6,"ppl":11.38},{"dur":62.6,"ppl":11.13},{"dur":81.6,"ppl":11.63},{"dur":80.0,"ppl":11.31},{"dur":89.4,"ppl":11.54},{"dur":96.8,"ppl":11.23},{"dur":75.0,"ppl":10.85},{"dur":66.0,"ppl":10.83},{"dur":54.1,"ppl":10.66},{"dur":61.5,"ppl":10.6},{"dur":61.3,"ppl":10.29},{"dur":66.4,"ppl":10.41},{"dur":64.5,"ppl":10.24},{"dur":77.9,"ppl":10.44},{"dur":72.1,"ppl":10.15},{"dur":73.0,"ppl":10.19},{"dur":75.3,"ppl":10.09},{"dur":89.4,"ppl":10.47},{"dur":91.6,"ppl":10.33},{"dur":94.1,"ppl":10.64},{"dur":98.5,"ppl":10.36},{"dur":99.4,"ppl":10.66},{"dur":91.0,"ppl":10.09},{"dur":93.9,"ppl":10.0},{"dur":96.3,"ppl":10.02},{"dur":84.9,"ppl":9.83},{"dur":90.2,"ppl":9.71},{"dur":92.1,"ppl":9.76},{"dur":89.1,"ppl":9.41},{"dur":89.0,"ppl":9.33},{"dur":96.9,"ppl":9.33},{"dur":96.9,"ppl":9.2},{"dur":92.4,"ppl":9.24},{"dur":92.9,"ppl":9.05},{"dur":85.2,"ppl":9.15},{"dur":64.8,"ppl":9.5},{"dur":72.5,"ppl":9.15},{"dur":74.6,"ppl":9.13},{"dur":66.9,"ppl":8.98},{"dur":77.6,"ppl":8.9},{"dur":89.0,"ppl":8.92},{"dur":90.8,"ppl":8.71},{"dur":95.4,"ppl":8.77},{"dur":97.1,"ppl":8.75},{"dur":98.5,"ppl":8.69},{"dur":84.0,"ppl":8.77},{"dur":85.0,"ppl":8.57},{"dur":86.1,"ppl":8.47},{"dur":95.8,"ppl":8.57},{"dur":95.0,"ppl":8.44},{"dur":96.1,"ppl":8.27},{"dur":91.3,"ppl":8.26},{"dur":88.2,"ppl":8.14},{"dur":88.6,"ppl":7.92},{"dur":72.9,"ppl":8.7},{"dur":71.5,"ppl":8.52},{"dur":77.4,"ppl":8.44},{"dur":80.0,"ppl":8.32},{"dur":74.9,"ppl":8.25},{"dur":62.4,"ppl":8.75},{"dur":53.6,"ppl":8.54},{"dur":56.7,"ppl":8.56},{"dur":50.6,"ppl":8.83},{"dur":60.1,"ppl":8.23},{"dur":62.4,"ppl":8.04},{"dur":63.9,"ppl":8.05},{"dur":65.3,"ppl":8.0},{"dur":67.2,"ppl":7.87},{"dur":60.9,"ppl":7.94},{"dur":59.3,"ppl":7.78},{"dur":54.2,"ppl":7.89},{"dur":54.5,"ppl":7.71},{"dur":51.5,"ppl":7.78},{"dur":76.0,"ppl":7.8},{"dur":78.8,"ppl":7.94},{"dur":79.8,"ppl":7.67},{"dur":82.6,"ppl":7.91},{"dur":81.8,"ppl":7.91},{"dur":91.9,"ppl":7.8},{"dur":84.8,"ppl":7.58},{"dur":96.8,"ppl":7.54},{"dur":99.2,"ppl":7.5},{"dur":72.3,"ppl":7.6},{"dur":74.7,"ppl":7.28},{"dur":76.9,"ppl":7.25},{"dur":76.4,"ppl":7.05},{"dur":79.8,"ppl":7.23},{"dur":81.4,"ppl":7.18},{"dur":83.1,"ppl":7.23},{"dur":87.4,"ppl":7.21},{"dur":89.9,"ppl":7.25},{"dur":57.7,"ppl":7.21},{"dur":55.2,"ppl":7.08},{"dur":52.7,"ppl":7.21},{"dur":51.9,"ppl":7.2},{"dur":83.4,"ppl":6.82},{"dur":85.0,"ppl":6.85},{"dur":89.5,"ppl":6.69},{"dur":91.3,"ppl":6.85},{"dur":93.1,"ppl":6.72},{"dur":94.1,"ppl":6.69},{"dur":95.5,"ppl":6.47},{"dur":96.9,"ppl":6.22},{"dur":94.5,"ppl":6.19},{"dur":99.5,"ppl":6.39},{"dur":86.5,"ppl":6.32},{"dur":87.9,"ppl":6.22},{"dur":83.5,"ppl":6.12},{"dur":82.9,"ppl":5.89},{"dur":90.8,"ppl":5.99},{"dur":91.9,"ppl":5.63},{"dur":94.2,"ppl":5.58},{"dur":92.4,"ppl":5.17},{"dur":88.1,"ppl":5.53},{"dur":86.1,"ppl":5.83},{"dur":86.6,"ppl":5.66},{"dur":82.4,"ppl":5.38},{"dur":85.2,"ppl":5.13},{"dur":86.8,"ppl":5.0},{"dur":79.7,"ppl":5.43},{"dur":80.8,"ppl":5.56},{"dur":76.9,"ppl":5.89},{"dur":78.4,"ppl":5.86},
        {"dur":144.7,"ppl":15.0},{"dur":142.9,"ppl":13.28},{"dur":149.2,"ppl":12.8},{"dur":131.1,"ppl":12.6},{"dur":131.2,"ppl":12.09},{"dur":139.2,"ppl":12.22},{"dur":112.3,"ppl":11.84},{"dur":113.0,"ppl":11.23},{"dur":111.8,"ppl":10.98},{"dur":113.75,"ppl":10.92},{"dur":115.4,"ppl":10.84},{"dur":119.2,"ppl":11.11},{"dur":121.5,"ppl":11.08},{"dur":122.8,"ppl":11.5},{"dur":124.7,"ppl":11.47},{"dur":118.6,"ppl":10.57},{"dur":119.6,"ppl":10.09},{"dur":127.3,"ppl":11.09},{"dur":127.2,"ppl":10.85},{"dur":127.3,"ppl":10.65},{"dur":127.1,"ppl":10.58},{"dur":128.2,"ppl":10.43},{"dur":125.5,"ppl":10.4},{"dur":127.2,"ppl":10.19},{"dur":127.2,"ppl":9.99},{"dur":125.9,"ppl":10.85},{"dur":100.5,"ppl":10.5},{"dur":130.2,"ppl":9.59},{"dur":117.4,"ppl":9.74},{"dur":118.4,"ppl":9.16},{"dur":116.8,"ppl":8.93},{"dur":126.8,"ppl":9.19},{"dur":127.3,"ppl":9.08},{"dur":102.2,"ppl":9.43},{"dur":102.2,"ppl":9.18},{"dur":104.7,"ppl":9.08},{"dur":105.4,"ppl":8.72},{"dur":111.0,"ppl":9.18},{"dur":100.2,"ppl":8.52},{"dur":99.3,"ppl":8.67},{"dur":101.6,"ppl":7.94},{"dur":99.8,"ppl":7.52},{"dur":100.9,"ppl":7.54},{"dur":101.8,"ppl":7.38},{"dur":103.5,"ppl":7.46},{"dur":104.4,"ppl":7.59},{"dur":105.5,"ppl":7.56},{"dur":104.4,"ppl":7.37},{"dur":106.8,"ppl":7.88},{"dur":107.9,"ppl":7.88},{"dur":110.1,"ppl":8.19},{"dur":112.3,"ppl":8.2},{"dur":113.6,"ppl":8.34},{"dur":112.6,"ppl":8.0},{"dur":113.4,"ppl":7.79},{"dur":114.9,"ppl":7.91},{"dur":115.6,"ppl":7.81},{"dur":118.0,"ppl":7.91},{"dur":121.4,"ppl":8.02},{"dur":111.0,"ppl":7.19},{"dur":102.6,"ppl":6.81},{"dur":102.3,"ppl":6.77},{"dur":100.3,"ppl":6.39},{"dur":102.2,"ppl":5.99},{"dur":104.9,"ppl":5.3},{"dur":110.3,"ppl":5.85},{"dur":113.3,"ppl":5.93},{"dur":118.6,"ppl":6.62},{"dur":119.2,"ppl":6.71},{"dur":122.5,"ppl":5.4},{"dur":123.8,"ppl":6.58},{"dur":126.5,"ppl":7.19},{"dur":126.4,"ppl":6.96},{"dur":127.6,"ppl":6.78},{"dur":127.3,"ppl":6.75},{"dur":128.9,"ppl":7.03},{"dur":125.6,"ppl":6.53},{"dur":126.5,"ppl":6.5},{"dur":126.6,"ppl":6.24},{"dur":130.2,"ppl":5.66},{"dur":140.5,"ppl":7.67},{"dur":126.8,"ppl":4.63},{"dur":102.9,"ppl":4.31}
      ]},
      "mark": {"type": "circle", "size": 314, "color": "#0d1c8a", "opacity": 0.25, "clip": true}
    },
    {
      "data": {"values": [{"dur": 149, "ppl": 0.6, "label": "bumper"}]},
      "mark": {"type": "text", "align": "right", "baseline": "alphabetic", "font": "Lato", "fontWeight": "bold", "fontSize": 64, "color": "#0b1b8a"},
      "encoding": {"text": {"field": "label"}}
    }
  ]
}
